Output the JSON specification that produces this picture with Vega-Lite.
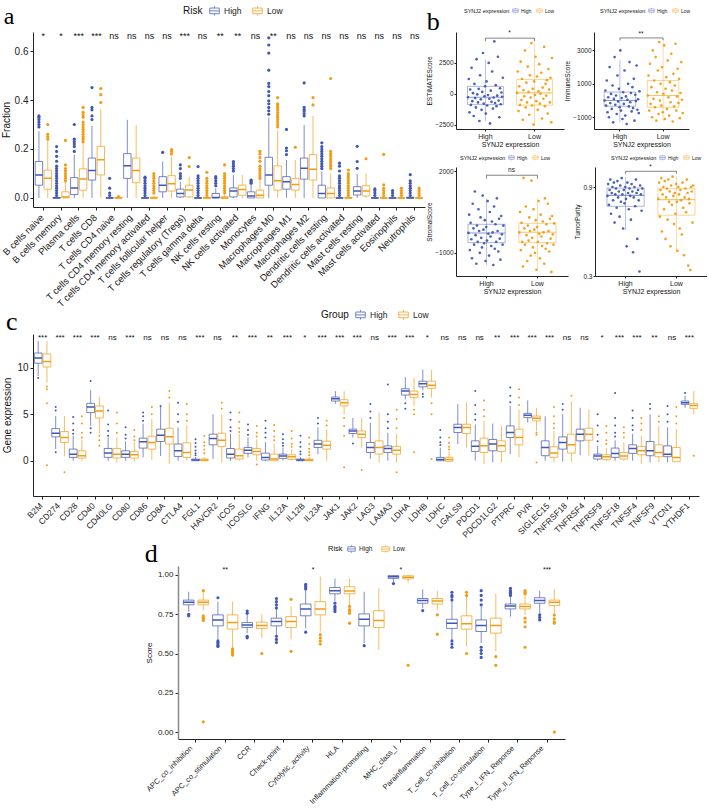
{
"$schema":"https://vega.github.io/schema/vega-lite/v6.json",
"background":"white",
"padding":{"top":5,"left":0,"right":0,"bottom":0},
"config":{"view":{"stroke":null},"font":"Liberation Sans","axis":{"domainColor":"#222","tickColor":"#222","labelColor":"#222","titleColor":"#111","grid":false,"titleFontWeight":"normal"},"legend":{"titleFontWeight":"normal","labelColor":"#222","titleColor":"#111"}},
"datasets":{
"aBox":[
{"x":"B cells naive|High","g":"High","lo":0,"q1":0.052,"md":0.094,"q3":0.149,"hi":0.273},{"x":"B cells naive|Low","g":"Low","lo":0,"q1":0.036,"md":0.08,"q3":0.114,"hi":0.234},
{"x":"B cells memory|High","g":"High","lo":0,"q1":0,"md":0,"q3":0.002,"hi":0.005},{"x":"B cells memory|Low","g":"Low","lo":0,"q1":0,"md":0.004,"q3":0.025,"hi":0.066},
{"x":"Plasma cells|High","g":"High","lo":0,"q1":0.014,"md":0.041,"q3":0.083,"hi":0.177},{"x":"Plasma cells|Low","g":"Low","lo":0,"q1":0.032,"md":0.077,"q3":0.119,"hi":0.225},
{"x":"T cells CD8|High","g":"High","lo":0,"q1":0.073,"md":0.112,"q3":0.163,"hi":0.294},{"x":"T cells CD8|Low","g":"Low","lo":0,"q1":0.094,"md":0.156,"q3":0.211,"hi":0.363},
{"x":"T cells CD4 naive|High","g":"High","lo":0,"q1":0,"md":0,"q3":0,"hi":0},{"x":"T cells CD4 naive|Low","g":"Low","lo":0,"q1":0,"md":0,"q3":0.002,"hi":0.004},
{"x":"T cells CD4 memory resting|High","g":"High","lo":0,"q1":0.08,"md":0.132,"q3":0.181,"hi":0.319},{"x":"T cells CD4 memory resting|Low","g":"Low","lo":0,"q1":0.062,"md":0.112,"q3":0.163,"hi":0.298},
{"x":"T cells CD4 memory activated|High","g":"High","lo":0,"q1":0,"md":0,"q3":0,"hi":0},{"x":"T cells CD4 memory activated|Low","g":"Low","lo":0,"q1":0,"md":0,"q3":0.003,"hi":0.008},
{"x":"T cells follicular helper|High","g":"High","lo":0,"q1":0.025,"md":0.052,"q3":0.087,"hi":0.149},{"x":"T cells follicular helper|Low","g":"Low","lo":0,"q1":0.028,"md":0.058,"q3":0.091,"hi":0.17},
{"x":"T cells regulatory (Tregs)|High","g":"High","lo":0,"q1":0.004,"md":0.018,"q3":0.036,"hi":0.066},{"x":"T cells regulatory (Tregs)|Low","g":"Low","lo":0,"q1":0.004,"md":0.032,"q3":0.052,"hi":0.087},
{"x":"T cells gamma delta|High","g":"High","lo":0,"q1":0,"md":0,"q3":0,"hi":0},{"x":"T cells gamma delta|Low","g":"Low","lo":0,"q1":0,"md":0,"q3":0.002,"hi":0.005},
{"x":"NK cells resting|High","g":"High","lo":0,"q1":0,"md":0.002,"q3":0.018,"hi":0.04},{"x":"NK cells resting|Low","g":"Low","lo":0,"q1":0,"md":0,"q3":0.005,"hi":0.012},
{"x":"NK cells activated|High","g":"High","lo":0,"q1":0.004,"md":0.028,"q3":0.041,"hi":0.094},{"x":"NK cells activated|Low","g":"Low","lo":0,"q1":0.011,"md":0.034,"q3":0.052,"hi":0.094},
{"x":"Monocytes|High","g":"High","lo":0,"q1":0,"md":0.008,"q3":0.025,"hi":0.059},{"x":"Monocytes|Low","g":"Low","lo":0,"q1":0,"md":0.011,"q3":0.032,"hi":0.073},
{"x":"Macrophages M0|High","g":"High","lo":0,"q1":0.052,"md":0.094,"q3":0.166,"hi":0.328},{"x":"Macrophages M0|Low","g":"Low","lo":0,"q1":0.032,"md":0.07,"q3":0.131,"hi":0.276},
{"x":"Macrophages M1|High","g":"High","lo":0,"q1":0.036,"md":0.066,"q3":0.087,"hi":0.155},{"x":"Macrophages M1|Low","g":"Low","lo":0,"q1":0.032,"md":0.055,"q3":0.08,"hi":0.155},
{"x":"Macrophages M2|High","g":"High","lo":0,"q1":0.077,"md":0.121,"q3":0.163,"hi":0.298},{"x":"Macrophages M2|Low","g":"Low","lo":0,"q1":0.073,"md":0.117,"q3":0.177,"hi":0.335},
{"x":"Dendritic cells resting|High","g":"High","lo":0,"q1":0,"md":0.018,"q3":0.052,"hi":0.108},{"x":"Dendritic cells resting|Low","g":"Low","lo":0,"q1":0,"md":0.018,"q3":0.041,"hi":0.1},
{"x":"Dendritic cells activated|High","g":"High","lo":0,"q1":0,"md":0,"q3":0,"hi":0},{"x":"Dendritic cells activated|Low","g":"Low","lo":0,"q1":0,"md":0,"q3":0.002,"hi":0.004},
{"x":"Mast cells resting|High","g":"High","lo":0,"q1":0.012,"md":0.028,"q3":0.046,"hi":0.097},{"x":"Mast cells resting|Low","g":"Low","lo":0,"q1":0.008,"md":0.028,"q3":0.05,"hi":0.1},
{"x":"Mast cells activated|High","g":"High","lo":0,"q1":0,"md":0,"q3":0,"hi":0},{"x":"Mast cells activated|Low","g":"Low","lo":0,"q1":0,"md":0,"q3":0,"hi":0},
{"x":"Eosinophils|High","g":"High","lo":0,"q1":0,"md":0,"q3":0,"hi":0},{"x":"Eosinophils|Low","g":"Low","lo":0,"q1":0,"md":0,"q3":0,"hi":0},
{"x":"Neutrophils|High","g":"High","lo":0,"q1":0,"md":0,"q3":0.003,"hi":0.006},{"x":"Neutrophils|Low","g":"Low","lo":0,"q1":0,"md":0,"q3":0,"hi":0}
],
"aOut":[
{"x":"B cells naive|High","g":"High","v":0.335},{"x":"B cells naive|High","g":"High","v":0.33},{"x":"B cells naive|High","g":"High","v":0.32},{"x":"B cells naive|High","g":"High","v":0.31},{"x":"B cells naive|High","g":"High","v":0.3},{"x":"B cells naive|High","g":"High","v":0.29},
{"x":"B cells naive|Low","g":"Low","v":0.3},{"x":"B cells naive|Low","g":"Low","v":0.26},{"x":"B cells naive|Low","g":"Low","v":0.25},{"x":"B cells naive|Low","g":"Low","v":0.24},
{"x":"B cells memory|High","g":"High","v":0.21},{"x":"B cells memory|High","g":"High","v":0.19},{"x":"B cells memory|High","g":"High","v":0.17},{"x":"B cells memory|High","g":"High","v":0.15},{"x":"B cells memory|High","g":"High","v":0.13},{"x":"B cells memory|High","g":"High","v":0.12},{"x":"B cells memory|High","g":"High","v":0.11},{"x":"B cells memory|High","g":"High","v":0.1},{"x":"B cells memory|High","g":"High","v":0.09},{"x":"B cells memory|High","g":"High","v":0.08},{"x":"B cells memory|High","g":"High","v":0.07},{"x":"B cells memory|High","g":"High","v":0.06},{"x":"B cells memory|High","g":"High","v":0.05},{"x":"B cells memory|High","g":"High","v":0.04},{"x":"B cells memory|High","g":"High","v":0.03},{"x":"B cells memory|High","g":"High","v":0.02},{"x":"B cells memory|High","g":"High","v":0.01},
{"x":"B cells memory|Low","g":"Low","v":0.235},{"x":"B cells memory|Low","g":"Low","v":0.135},{"x":"B cells memory|Low","g":"Low","v":0.12},{"x":"B cells memory|Low","g":"Low","v":0.11},{"x":"B cells memory|Low","g":"Low","v":0.1},{"x":"B cells memory|Low","g":"Low","v":0.09},{"x":"B cells memory|Low","g":"Low","v":0.08},{"x":"B cells memory|Low","g":"Low","v":0.07},
{"x":"Plasma cells|High","g":"High","v":0.3},{"x":"Plasma cells|High","g":"High","v":0.24},{"x":"Plasma cells|High","g":"High","v":0.23},{"x":"Plasma cells|High","g":"High","v":0.22},{"x":"Plasma cells|High","g":"High","v":0.21},{"x":"Plasma cells|High","g":"High","v":0.19},
{"x":"Plasma cells|Low","g":"Low","v":0.37},{"x":"Plasma cells|Low","g":"Low","v":0.35},{"x":"Plasma cells|Low","g":"Low","v":0.34},{"x":"Plasma cells|Low","g":"Low","v":0.33},{"x":"Plasma cells|Low","g":"Low","v":0.31},{"x":"Plasma cells|Low","g":"Low","v":0.3},{"x":"Plasma cells|Low","g":"Low","v":0.29},{"x":"Plasma cells|Low","g":"Low","v":0.28},{"x":"Plasma cells|Low","g":"Low","v":0.27},{"x":"Plasma cells|Low","g":"Low","v":0.26},{"x":"Plasma cells|Low","g":"Low","v":0.25},{"x":"Plasma cells|Low","g":"Low","v":0.24},{"x":"Plasma cells|Low","g":"Low","v":0.23},
{"x":"T cells CD8|High","g":"High","v":0.451},{"x":"T cells CD8|High","g":"High","v":0.37},{"x":"T cells CD8|High","g":"High","v":0.36},{"x":"T cells CD8|High","g":"High","v":0.335},{"x":"T cells CD8|High","g":"High","v":0.32},
{"x":"T cells CD8|Low","g":"Low","v":0.447},{"x":"T cells CD8|Low","g":"Low","v":0.422},{"x":"T cells CD8|Low","g":"Low","v":0.39},
{"x":"T cells CD4 naive|High","g":"High","v":0.08},{"x":"T cells CD4 naive|High","g":"High","v":0.04},{"x":"T cells CD4 naive|High","g":"High","v":0.02},{"x":"T cells CD4 naive|High","g":"High","v":0.01},{"x":"T cells CD4 naive|Low","g":"Low","v":0.006},
{"x":"T cells CD4 memory activated|High","g":"High","v":0.085},{"x":"T cells CD4 memory activated|High","g":"High","v":0.08},{"x":"T cells CD4 memory activated|High","g":"High","v":0.07},{"x":"T cells CD4 memory activated|High","g":"High","v":0.06},{"x":"T cells CD4 memory activated|High","g":"High","v":0.05},{"x":"T cells CD4 memory activated|High","g":"High","v":0.04},{"x":"T cells CD4 memory activated|High","g":"High","v":0.03},{"x":"T cells CD4 memory activated|High","g":"High","v":0.02},{"x":"T cells CD4 memory activated|High","g":"High","v":0.01},
{"x":"T cells CD4 memory activated|Low","g":"Low","v":0.1},{"x":"T cells CD4 memory activated|Low","g":"Low","v":0.09},{"x":"T cells CD4 memory activated|Low","g":"Low","v":0.08},{"x":"T cells CD4 memory activated|Low","g":"Low","v":0.07},{"x":"T cells CD4 memory activated|Low","g":"Low","v":0.06},{"x":"T cells CD4 memory activated|Low","g":"Low","v":0.05},{"x":"T cells CD4 memory activated|Low","g":"Low","v":0.04},{"x":"T cells CD4 memory activated|Low","g":"Low","v":0.03},{"x":"T cells CD4 memory activated|Low","g":"Low","v":0.02},
{"x":"T cells follicular helper|High","g":"High","v":0.186},{"x":"T cells follicular helper|Low","g":"Low","v":0.18},{"x":"T cells follicular helper|Low","g":"Low","v":0.19},{"x":"T cells follicular helper|Low","g":"Low","v":0.198},
{"x":"T cells regulatory (Tregs)|High","g":"High","v":0.135},{"x":"T cells regulatory (Tregs)|High","g":"High","v":0.12},{"x":"T cells regulatory (Tregs)|High","g":"High","v":0.1},{"x":"T cells regulatory (Tregs)|High","g":"High","v":0.09},{"x":"T cells regulatory (Tregs)|High","g":"High","v":0.08},{"x":"T cells regulatory (Tregs)|Low","g":"Low","v":0.128},{"x":"T cells regulatory (Tregs)|Low","g":"Low","v":0.165},
{"x":"T cells gamma delta|High","g":"High","v":0.128},{"x":"T cells gamma delta|High","g":"High","v":0.09},{"x":"T cells gamma delta|High","g":"High","v":0.08},{"x":"T cells gamma delta|High","g":"High","v":0.07},{"x":"T cells gamma delta|High","g":"High","v":0.06},{"x":"T cells gamma delta|High","g":"High","v":0.05},{"x":"T cells gamma delta|High","g":"High","v":0.04},{"x":"T cells gamma delta|High","g":"High","v":0.03},{"x":"T cells gamma delta|High","g":"High","v":0.02},{"x":"T cells gamma delta|High","g":"High","v":0.01},
{"x":"T cells gamma delta|Low","g":"Low","v":0.105},{"x":"T cells gamma delta|Low","g":"Low","v":0.08},{"x":"T cells gamma delta|Low","g":"Low","v":0.07},{"x":"T cells gamma delta|Low","g":"Low","v":0.06},{"x":"T cells gamma delta|Low","g":"Low","v":0.05},{"x":"T cells gamma delta|Low","g":"Low","v":0.04},{"x":"T cells gamma delta|Low","g":"Low","v":0.03},{"x":"T cells gamma delta|Low","g":"Low","v":0.02},{"x":"T cells gamma delta|Low","g":"Low","v":0.01},
{"x":"NK cells resting|High","g":"High","v":0.087},{"x":"NK cells resting|High","g":"High","v":0.08},{"x":"NK cells resting|High","g":"High","v":0.07},{"x":"NK cells resting|High","g":"High","v":0.06},{"x":"NK cells resting|High","g":"High","v":0.05},
{"x":"NK cells resting|Low","g":"Low","v":0.135},{"x":"NK cells resting|Low","g":"Low","v":0.1},{"x":"NK cells resting|Low","g":"Low","v":0.09},{"x":"NK cells resting|Low","g":"Low","v":0.08},{"x":"NK cells resting|Low","g":"Low","v":0.07},{"x":"NK cells resting|Low","g":"Low","v":0.06},{"x":"NK cells resting|Low","g":"Low","v":0.05},{"x":"NK cells resting|Low","g":"Low","v":0.04},{"x":"NK cells resting|Low","g":"Low","v":0.03},{"x":"NK cells resting|Low","g":"Low","v":0.02},
{"x":"NK cells activated|High","g":"High","v":0.149},{"x":"NK cells activated|High","g":"High","v":0.14},{"x":"NK cells activated|High","g":"High","v":0.13},{"x":"NK cells activated|High","g":"High","v":0.12},{"x":"NK cells activated|High","g":"High","v":0.11},
{"x":"Monocytes|High","g":"High","v":0.073},{"x":"Monocytes|High","g":"High","v":0.07},{"x":"Monocytes|High","g":"High","v":0.065},{"x":"Monocytes|High","g":"High","v":0.06},
{"x":"Monocytes|Low","g":"Low","v":0.19},{"x":"Monocytes|Low","g":"Low","v":0.18},{"x":"Monocytes|Low","g":"Low","v":0.165},{"x":"Monocytes|Low","g":"Low","v":0.15},{"x":"Monocytes|Low","g":"Low","v":0.13},{"x":"Monocytes|Low","g":"Low","v":0.12},{"x":"Monocytes|Low","g":"Low","v":0.11},{"x":"Monocytes|Low","g":"Low","v":0.1},{"x":"Monocytes|Low","g":"Low","v":0.09},{"x":"Monocytes|Low","g":"Low","v":0.08},
{"x":"Macrophages M0|High","g":"High","v":0.654},{"x":"Macrophages M0|High","g":"High","v":0.625},{"x":"Macrophages M0|High","g":"High","v":0.592},{"x":"Macrophages M0|High","g":"High","v":0.522},{"x":"Macrophages M0|High","g":"High","v":0.468},{"x":"Macrophages M0|High","g":"High","v":0.455},{"x":"Macrophages M0|High","g":"High","v":0.435},{"x":"Macrophages M0|High","g":"High","v":0.418},{"x":"Macrophages M0|High","g":"High","v":0.397},{"x":"Macrophages M0|High","g":"High","v":0.385},{"x":"Macrophages M0|High","g":"High","v":0.37},{"x":"Macrophages M0|High","g":"High","v":0.356},{"x":"Macrophages M0|High","g":"High","v":0.342},
{"x":"Macrophages M0|Low","g":"Low","v":0.41},{"x":"Macrophages M0|Low","g":"Low","v":0.385},{"x":"Macrophages M0|Low","g":"Low","v":0.38},{"x":"Macrophages M0|Low","g":"Low","v":0.37},{"x":"Macrophages M0|Low","g":"Low","v":0.36},{"x":"Macrophages M0|Low","g":"Low","v":0.35},{"x":"Macrophages M0|Low","g":"Low","v":0.34},{"x":"Macrophages M0|Low","g":"Low","v":0.33},{"x":"Macrophages M0|Low","g":"Low","v":0.32},{"x":"Macrophages M0|Low","g":"Low","v":0.31},{"x":"Macrophages M0|Low","g":"Low","v":0.3},{"x":"Macrophages M0|Low","g":"Low","v":0.29},
{"x":"Macrophages M1|High","g":"High","v":0.28},{"x":"Macrophages M1|High","g":"High","v":0.204},{"x":"Macrophages M1|High","g":"High","v":0.193},{"x":"Macrophages M1|High","g":"High","v":0.177},{"x":"Macrophages M1|Low","g":"Low","v":0.207},
{"x":"Macrophages M2|High","g":"High","v":0.47},{"x":"Macrophages M2|High","g":"High","v":0.37},{"x":"Macrophages M2|High","g":"High","v":0.36},{"x":"Macrophages M2|High","g":"High","v":0.355},{"x":"Macrophages M2|High","g":"High","v":0.345},{"x":"Macrophages M2|High","g":"High","v":0.335},{"x":"Macrophages M2|Low","g":"Low","v":0.41},{"x":"Macrophages M2|Low","g":"Low","v":0.38},
{"x":"Dendritic cells resting|High","g":"High","v":0.225},{"x":"Dendritic cells resting|High","g":"High","v":0.21},{"x":"Dendritic cells resting|High","g":"High","v":0.2},{"x":"Dendritic cells resting|High","g":"High","v":0.19},{"x":"Dendritic cells resting|High","g":"High","v":0.18},{"x":"Dendritic cells resting|High","g":"High","v":0.17},{"x":"Dendritic cells resting|High","g":"High","v":0.16},{"x":"Dendritic cells resting|High","g":"High","v":0.15},{"x":"Dendritic cells resting|High","g":"High","v":0.14},{"x":"Dendritic cells resting|High","g":"High","v":0.13},{"x":"Dendritic cells resting|High","g":"High","v":0.12},
{"x":"Dendritic cells resting|Low","g":"Low","v":0.488},{"x":"Dendritic cells resting|Low","g":"Low","v":0.19},{"x":"Dendritic cells resting|Low","g":"Low","v":0.18},{"x":"Dendritic cells resting|Low","g":"Low","v":0.17},{"x":"Dendritic cells resting|Low","g":"Low","v":0.16},{"x":"Dendritic cells resting|Low","g":"Low","v":0.15},{"x":"Dendritic cells resting|Low","g":"Low","v":0.14},{"x":"Dendritic cells resting|Low","g":"Low","v":0.13},{"x":"Dendritic cells resting|Low","g":"Low","v":0.12},
{"x":"Dendritic cells activated|High","g":"High","v":0.142},{"x":"Dendritic cells activated|High","g":"High","v":0.13},{"x":"Dendritic cells activated|High","g":"High","v":0.11},{"x":"Dendritic cells activated|High","g":"High","v":0.09},{"x":"Dendritic cells activated|High","g":"High","v":0.08},{"x":"Dendritic cells activated|High","g":"High","v":0.07},{"x":"Dendritic cells activated|High","g":"High","v":0.06},{"x":"Dendritic cells activated|High","g":"High","v":0.05},{"x":"Dendritic cells activated|High","g":"High","v":0.04},{"x":"Dendritic cells activated|High","g":"High","v":0.03},{"x":"Dendritic cells activated|High","g":"High","v":0.02},{"x":"Dendritic cells activated|High","g":"High","v":0.01},
{"x":"Dendritic cells activated|Low","g":"Low","v":0.114},{"x":"Dendritic cells activated|Low","g":"Low","v":0.1},{"x":"Dendritic cells activated|Low","g":"Low","v":0.09},{"x":"Dendritic cells activated|Low","g":"Low","v":0.08},{"x":"Dendritic cells activated|Low","g":"Low","v":0.07},{"x":"Dendritic cells activated|Low","g":"Low","v":0.06},{"x":"Dendritic cells activated|Low","g":"Low","v":0.05},{"x":"Dendritic cells activated|Low","g":"Low","v":0.04},{"x":"Dendritic cells activated|Low","g":"Low","v":0.03},{"x":"Dendritic cells activated|Low","g":"Low","v":0.02},{"x":"Dendritic cells activated|Low","g":"Low","v":0.01},
{"x":"Mast cells resting|High","g":"High","v":0.211},{"x":"Mast cells resting|High","g":"High","v":0.149},{"x":"Mast cells resting|High","g":"High","v":0.121},{"x":"Mast cells resting|Low","g":"Low","v":0.16},
{"x":"Mast cells activated|High","g":"High","v":0.037},{"x":"Mast cells activated|High","g":"High","v":0.03},{"x":"Mast cells activated|High","g":"High","v":0.02},{"x":"Mast cells activated|High","g":"High","v":0.01},
{"x":"Mast cells activated|Low","g":"Low","v":0.178},{"x":"Mast cells activated|Low","g":"Low","v":0.054},{"x":"Mast cells activated|Low","g":"Low","v":0.04},{"x":"Mast cells activated|Low","g":"Low","v":0.03},{"x":"Mast cells activated|Low","g":"Low","v":0.02},{"x":"Mast cells activated|Low","g":"Low","v":0.01},
{"x":"Eosinophils|High","g":"High","v":0.03},{"x":"Eosinophils|High","g":"High","v":0.02},{"x":"Eosinophils|High","g":"High","v":0.01},{"x":"Eosinophils|Low","g":"Low","v":0.04},{"x":"Eosinophils|Low","g":"Low","v":0.03},{"x":"Eosinophils|Low","g":"Low","v":0.02},{"x":"Eosinophils|Low","g":"Low","v":0.01},
{"x":"Neutrophils|High","g":"High","v":0.095},{"x":"Neutrophils|High","g":"High","v":0.07},{"x":"Neutrophils|High","g":"High","v":0.06},{"x":"Neutrophils|High","g":"High","v":0.05},{"x":"Neutrophils|High","g":"High","v":0.04},{"x":"Neutrophils|High","g":"High","v":0.03},{"x":"Neutrophils|High","g":"High","v":0.02},{"x":"Neutrophils|High","g":"High","v":0.01},
{"x":"Neutrophils|Low","g":"Low","v":0.04},{"x":"Neutrophils|Low","g":"Low","v":0.03},{"x":"Neutrophils|Low","g":"Low","v":0.02},{"x":"Neutrophils|Low","g":"Low","v":0.01}
],
"aSig":[
{"x":"B cells naive|High","t":"*"},{"x":"B cells memory|High","t":"*"},{"x":"Plasma cells|High","t":"***"},{"x":"T cells CD8|High","t":"***"},{"x":"T cells CD4 naive|High","t":"ns"},{"x":"T cells CD4 memory resting|High","t":"ns"},{"x":"T cells CD4 memory activated|High","t":"ns"},{"x":"T cells follicular helper|High","t":"ns"},{"x":"T cells regulatory (Tregs)|High","t":"***"},{"x":"T cells gamma delta|High","t":"ns"},{"x":"NK cells resting|High","t":"**"},{"x":"NK cells activated|High","t":"**"},{"x":"Monocytes|High","t":"ns"},{"x":"Macrophages M0|High","t":"**"},{"x":"Macrophages M1|High","t":"ns"},{"x":"Macrophages M2|High","t":"ns"},{"x":"Dendritic cells resting|High","t":"ns"},{"x":"Dendritic cells activated|High","t":"ns"},{"x":"Mast cells resting|High","t":"ns"},{"x":"Mast cells activated|High","t":"ns"},{"x":"Eosinophils|High","t":"ns"},{"x":"Neutrophils|High","t":"ns"}
],
"bBox":[
{"s":"E","g":"High","lo":-2220,"q1":-880,"md":-278,"q3":604,"hi":2780},{"s":"E","g":"Low","lo":-2480,"q1":-924,"md":70,"q3":1160,"hi":4120},
{"s":"I","g":"High","lo":-1300,"q1":-340,"md":0,"q3":508,"hi":2420},{"s":"I","g":"Low","lo":-1220,"q1":-400,"md":305,"q3":1200,"hi":3525},
{"s":"S","g":"High","lo":-1447,"q1":-624,"md":-270,"q3":47,"hi":1000},{"s":"S","g":"Low","lo":-1620,"q1":-624,"md":-247,"q3":82,"hi":1000},
{"s":"T","g":"High","lo":0.61,"q1":0.77,"md":0.844,"q3":0.893,"hi":0.967},{"s":"T","g":"Low","lo":0.46,"q1":0.71,"md":0.815,"q3":0.889,"hi":0.974}
],
"bSig":[
{"s":"E","a":"High","b":"Low","y":4500,"y2":4250,"ty":4650,"t":"*"},
{"s":"I","a":"High","b":"Low","y":3745,"y2":3600,"ty":3830,"t":"**"},
{"s":"S","a":"High","b":"Low","y":1847,"y2":1720,"ty":1930,"t":"ns"},
{"s":"T","a":"High","b":"Low","y":1.006,"y2":0.99,"ty":1.014,"t":"*"}
],
"bE":[
{"g":"High","i":1,"v":-280},{"g":"High","i":2,"v":1200},{"g":"High","i":3,"v":-1500},{"g":"High","i":4,"v":350},{"g":"High","i":5,"v":-900},{"g":"High","i":6,"v":2100},{"g":"High","i":7,"v":-600},{"g":"High","i":8,"v":50},{"g":"High","i":9,"v":-1800},{"g":"High","i":10,"v":800},
{"g":"High","i":11,"v":-350},{"g":"High","i":12,"v":-1100},{"g":"High","i":13,"v":2800},{"g":"High","i":14,"v":-50},{"g":"High","i":15,"v":-700},{"g":"High","i":16,"v":400},{"g":"High","i":17,"v":-2200},{"g":"High","i":18,"v":1500},{"g":"High","i":19,"v":-450},{"g":"High","i":20,"v":-1300},
{"g":"High","i":21,"v":150},{"g":"High","i":22,"v":3300},{"g":"High","i":23,"v":-800},{"g":"High","i":24,"v":-200},{"g":"High","i":25,"v":600},{"g":"High","i":26,"v":-1600},{"g":"High","i":27,"v":1000},{"g":"High","i":28,"v":-950},{"g":"High","i":29,"v":-100},{"g":"High","i":30,"v":2500},
{"g":"High","i":31,"v":-400},{"g":"High","i":32,"v":-2400},{"g":"High","i":33,"v":250},{"g":"High","i":34,"v":-650},{"g":"High","i":35,"v":1800},{"g":"High","i":36,"v":-1200},{"g":"High","i":37,"v":-300},{"g":"High","i":38,"v":4236},{"g":"High","i":39,"v":-750},{"g":"High","i":40,"v":700},
{"g":"High","i":41,"v":-1000},{"g":"High","i":42,"v":-150},{"g":"High","i":43,"v":3000},{"g":"High","i":44,"v":-550},{"g":"High","i":45,"v":-1900},{"g":"High","i":46,"v":450},{"g":"High","i":47,"v":-850},{"g":"High","i":48,"v":100},{"g":"High","i":49,"v":-250},{"g":"High","i":50,"v":1300},
{"g":"Low","i":1,"v":70},{"g":"Low","i":2,"v":1800},{"g":"Low","i":3,"v":-1400},{"g":"Low","i":4,"v":600},{"g":"Low","i":5,"v":-900},{"g":"Low","i":6,"v":2600},{"g":"Low","i":7,"v":-500},{"g":"Low","i":8,"v":1200},{"g":"Low","i":9,"v":-2100},{"g":"Low","i":10,"v":300},
{"g":"Low","i":11,"v":-200},{"g":"Low","i":12,"v":3500},{"g":"Low","i":13,"v":-1100},{"g":"Low","i":14,"v":900},{"g":"Low","i":15,"v":-700},{"g":"Low","i":16,"v":2200},{"g":"Low","i":17,"v":150},{"g":"Low","i":18,"v":-1700},{"g":"Low","i":19,"v":1500},{"g":"Low","i":20,"v":-300},
{"g":"Low","i":21,"v":4100},{"g":"Low","i":22,"v":-950},{"g":"Low","i":23,"v":400},{"g":"Low","i":24,"v":-2500},{"g":"Low","i":25,"v":1000},{"g":"Low","i":26,"v":-100},{"g":"Low","i":27,"v":3000},{"g":"Low","i":28,"v":-600},{"g":"Low","i":29,"v":1400},{"g":"Low","i":30,"v":-1300},
{"g":"Low","i":31,"v":200},{"g":"Low","i":32,"v":2400},{"g":"Low","i":33,"v":-800},{"g":"Low","i":34,"v":0},{"g":"Low","i":35,"v":1700},{"g":"Low","i":36,"v":-2000},{"g":"Low","i":37,"v":500},{"g":"Low","i":38,"v":-400},{"g":"Low","i":39,"v":3800},{"g":"Low","i":40,"v":-1000},
{"g":"Low","i":41,"v":800},{"g":"Low","i":42,"v":-150},{"g":"Low","i":43,"v":1100},{"g":"Low","i":44,"v":-1600},{"g":"Low","i":45,"v":2000},{"g":"Low","i":46,"v":350},{"g":"Low","i":47,"v":-700},{"g":"Low","i":48,"v":1300},{"g":"Low","i":49,"v":-2300},{"g":"Low","i":50,"v":2900}
],
"bI":[
{"g":"High","i":1,"v":0},{"g":"High","i":2,"v":600},{"g":"High","i":3,"v":-300},{"g":"High","i":4,"v":1200},{"g":"High","i":5,"v":-700},{"g":"High","i":6,"v":200},{"g":"High","i":7,"v":-1000},{"g":"High","i":8,"v":2000},{"g":"High","i":9,"v":-150},{"g":"High","i":10,"v":400},
{"g":"High","i":11,"v":-500},{"g":"High","i":12,"v":900},{"g":"High","i":13,"v":-1300},{"g":"High","i":14,"v":100},{"g":"High","i":15,"v":2600},{"g":"High","i":16,"v":-250},{"g":"High","i":17,"v":300},{"g":"High","i":18,"v":-800},{"g":"High","i":19,"v":1500},{"g":"High","i":20,"v":-50},
{"g":"High","i":21,"v":700},{"g":"High","i":22,"v":-400},{"g":"High","i":23,"v":3000},{"g":"High","i":24,"v":-600},{"g":"High","i":25,"v":150},{"g":"High","i":26,"v":-1100},{"g":"High","i":27,"v":500},{"g":"High","i":28,"v":-200},{"g":"High","i":29,"v":1800},{"g":"High","i":30,"v":-900},
{"g":"High","i":31,"v":250},{"g":"High","i":32,"v":-1400},{"g":"High","i":33,"v":50},{"g":"High","i":34,"v":1000},{"g":"High","i":35,"v":-350},{"g":"High","i":36,"v":2300},{"g":"High","i":37,"v":-100},{"g":"High","i":38,"v":450},{"g":"High","i":39,"v":-650},{"g":"High","i":40,"v":800},
{"g":"High","i":41,"v":-450},{"g":"High","i":42,"v":1300},{"g":"High","i":43,"v":-1200},{"g":"High","i":44,"v":350},{"g":"High","i":45,"v":-30},{"g":"High","i":46,"v":2100},{"g":"High","i":47,"v":-550},{"g":"High","i":48,"v":80},{"g":"High","i":49,"v":-750},{"g":"High","i":50,"v":550},
{"g":"Low","i":1,"v":300},{"g":"Low","i":2,"v":1500},{"g":"Low","i":3,"v":-600},{"g":"Low","i":4,"v":2200},{"g":"Low","i":5,"v":-200},{"g":"Low","i":6,"v":800},{"g":"Low","i":7,"v":-1000},{"g":"Low","i":8,"v":3000},{"g":"Low","i":9,"v":100},{"g":"Low","i":10,"v":1200},
{"g":"Low","i":11,"v":-400},{"g":"Low","i":12,"v":2600},{"g":"Low","i":13,"v":-1200},{"g":"Low","i":14,"v":500},{"g":"Low","i":15,"v":1800},{"g":"Low","i":16,"v":-800},{"g":"Low","i":17,"v":3500},{"g":"Low","i":18,"v":0},{"g":"Low","i":19,"v":1000},{"g":"Low","i":20,"v":-300},
{"g":"Low","i":21,"v":2000},{"g":"Low","i":22,"v":-700},{"g":"Low","i":23,"v":400},{"g":"Low","i":24,"v":3300},{"g":"Low","i":25,"v":-1100},{"g":"Low","i":26,"v":700},{"g":"Low","i":27,"v":1400},{"g":"Low","i":28,"v":-500},{"g":"Low","i":29,"v":2400},{"g":"Low","i":30,"v":200},
{"g":"Low","i":31,"v":-900},{"g":"Low","i":32,"v":1100},{"g":"Low","i":33,"v":-100},{"g":"Low","i":34,"v":2800},{"g":"Low","i":35,"v":600},{"g":"Low","i":36,"v":-1250},{"g":"Low","i":37,"v":1600},{"g":"Low","i":38,"v":-350},{"g":"Low","i":39,"v":900},{"g":"Low","i":40,"v":3400},
{"g":"Low","i":41,"v":-600},{"g":"Low","i":42,"v":250},{"g":"Low","i":43,"v":1900},{"g":"Low","i":44,"v":-150},{"g":"Low","i":45,"v":1300},{"g":"Low","i":46,"v":-1050},{"g":"Low","i":47,"v":450},{"g":"Low","i":48,"v":2300},{"g":"Low","i":49,"v":50},{"g":"Low","i":50,"v":-750}
],
"bS":[
{"g":"High","i":1,"v":-270},{"g":"High","i":2,"v":400},{"g":"High","i":3,"v":-900},{"g":"High","i":4,"v":100},{"g":"High","i":5,"v":-500},{"g":"High","i":6,"v":-1200},{"g":"High","i":7,"v":800},{"g":"High","i":8,"v":-100},{"g":"High","i":9,"v":-700},{"g":"High","i":10,"v":1250},
{"g":"High","i":11,"v":-350},{"g":"High","i":12,"v":-1400},{"g":"High","i":13,"v":0},{"g":"High","i":14,"v":-600},{"g":"High","i":15,"v":600},{"g":"High","i":16,"v":-200},{"g":"High","i":17,"v":-1000},{"g":"High","i":18,"v":300},{"g":"High","i":19,"v":-450},{"g":"High","i":20,"v":-800},
{"g":"High","i":21,"v":1100},{"g":"High","i":22,"v":-150},{"g":"High","i":23,"v":-650},{"g":"High","i":24,"v":200},{"g":"High","i":25,"v":-1300},{"g":"High","i":26,"v":-50},{"g":"High","i":27,"v":-550},{"g":"High","i":28,"v":900},{"g":"High","i":29,"v":-300},{"g":"High","i":30,"v":-1100},
{"g":"High","i":31,"v":500},{"g":"High","i":32,"v":-400},{"g":"High","i":33,"v":-750},{"g":"High","i":34,"v":150},{"g":"High","i":35,"v":-250},{"g":"High","i":36,"v":-1447},{"g":"High","i":37,"v":700},{"g":"High","i":38,"v":-850},{"g":"High","i":39,"v":50},{"g":"High","i":40,"v":-600},
{"g":"High","i":41,"v":1000},{"g":"High","i":42,"v":-200},{"g":"High","i":43,"v":-950},{"g":"High","i":44,"v":250},{"g":"High","i":45,"v":-480},{"g":"High","i":46,"v":-1250},{"g":"High","i":47,"v":350},{"g":"High","i":48,"v":-320},{"g":"High","i":49,"v":-700},{"g":"High","i":50,"v":0},
{"g":"Low","i":1,"v":-250},{"g":"Low","i":2,"v":500},{"g":"Low","i":3,"v":-900},{"g":"Low","i":4,"v":100},{"g":"Low","i":5,"v":-600},{"g":"Low","i":6,"v":-1500},{"g":"Low","i":7,"v":1750},{"g":"Low","i":8,"v":-100},{"g":"Low","i":9,"v":-700},{"g":"Low","i":10,"v":700},
{"g":"Low","i":11,"v":-350},{"g":"Low","i":12,"v":-1300},{"g":"Low","i":13,"v":0},{"g":"Low","i":14,"v":-550},{"g":"Low","i":15,"v":300},{"g":"Low","i":16,"v":-200},{"g":"Low","i":17,"v":-1100},{"g":"Low","i":18,"v":1650},{"g":"Low","i":19,"v":-450},{"g":"Low","i":20,"v":-800},
{"g":"Low","i":21,"v":600},{"g":"Low","i":22,"v":-150},{"g":"Low","i":23,"v":-1000},{"g":"Low","i":24,"v":200},{"g":"Low","i":25,"v":-1620},{"g":"Low","i":26,"v":-50},{"g":"Low","i":27,"v":-600},{"g":"Low","i":28,"v":900},{"g":"Low","i":29,"v":-300},{"g":"Low","i":30,"v":-1200},
{"g":"Low","i":31,"v":400},{"g":"Low","i":32,"v":-400},{"g":"Low","i":33,"v":-750},{"g":"Low","i":34,"v":150},{"g":"Low","i":35,"v":-250},{"g":"Low","i":36,"v":-1400},{"g":"Low","i":37,"v":1000},{"g":"Low","i":38,"v":-850},{"g":"Low","i":39,"v":50},{"g":"Low","i":40,"v":-650},
{"g":"Low","i":41,"v":800},{"g":"Low","i":42,"v":-200},{"g":"Low","i":43,"v":-950},{"g":"Low","i":44,"v":250},{"g":"Low","i":45,"v":-480},{"g":"Low","i":46,"v":-1700},{"g":"Low","i":47,"v":350},{"g":"Low","i":48,"v":-320},{"g":"Low","i":49,"v":-700},{"g":"Low","i":50,"v":80}
],
"bT":[
{"g":"High","i":1,"v":0.84},{"g":"High","i":2,"v":0.92},{"g":"High","i":3,"v":0.78},{"g":"High","i":4,"v":0.88},{"g":"High","i":5,"v":0.95},{"g":"High","i":6,"v":0.72},{"g":"High","i":7,"v":0.86},{"g":"High","i":8,"v":0.9},{"g":"High","i":9,"v":0.81},{"g":"High","i":10,"v":0.93},
{"g":"High","i":11,"v":0.66},{"g":"High","i":12,"v":0.85},{"g":"High","i":13,"v":0.89},{"g":"High","i":14,"v":0.76},{"g":"High","i":15,"v":0.94},{"g":"High","i":16,"v":0.83},{"g":"High","i":17,"v":0.87},{"g":"High","i":18,"v":0.7},{"g":"High","i":19,"v":0.91},{"g":"High","i":20,"v":0.8},
{"g":"High","i":21,"v":0.96},{"g":"High","i":22,"v":0.85},{"g":"High","i":23,"v":0.62},{"g":"High","i":24,"v":0.88},{"g":"High","i":25,"v":0.79},{"g":"High","i":26,"v":0.9},{"g":"High","i":27,"v":0.82},{"g":"High","i":28,"v":0.5},{"g":"High","i":29,"v":0.93},{"g":"High","i":30,"v":0.86},
{"g":"High","i":31,"v":0.75},{"g":"High","i":32,"v":0.89},{"g":"High","i":33,"v":0.84},{"g":"High","i":34,"v":0.68},{"g":"High","i":35,"v":0.92},{"g":"High","i":36,"v":0.87},{"g":"High","i":37,"v":0.46},{"g":"High","i":38,"v":0.83},{"g":"High","i":39,"v":0.9},{"g":"High","i":40,"v":0.77},
{"g":"High","i":41,"v":0.95},{"g":"High","i":42,"v":0.86},{"g":"High","i":43,"v":0.55},{"g":"High","i":44,"v":0.88},{"g":"High","i":45,"v":0.81},{"g":"High","i":46,"v":0.33},{"g":"High","i":47,"v":0.91},{"g":"High","i":48,"v":0.85},{"g":"High","i":49,"v":0.74},{"g":"High","i":50,"v":0.89},
{"g":"Low","i":1,"v":0.82},{"g":"Low","i":2,"v":0.93},{"g":"Low","i":3,"v":0.7},{"g":"Low","i":4,"v":0.88},{"g":"Low","i":5,"v":0.96},{"g":"Low","i":6,"v":0.6},{"g":"Low","i":7,"v":0.85},{"g":"Low","i":8,"v":0.9},{"g":"Low","i":9,"v":0.75},{"g":"Low","i":10,"v":0.94},
{"g":"Low","i":11,"v":0.55},{"g":"Low","i":12,"v":0.83},{"g":"Low","i":13,"v":0.89},{"g":"Low","i":14,"v":0.68},{"g":"Low","i":15,"v":0.95},{"g":"Low","i":16,"v":0.8},{"g":"Low","i":17,"v":0.87},{"g":"Low","i":18,"v":0.5},{"g":"Low","i":19,"v":0.91},{"g":"Low","i":20,"v":0.78},
{"g":"Low","i":21,"v":0.97},{"g":"Low","i":22,"v":0.84},{"g":"Low","i":23,"v":0.65},{"g":"Low","i":24,"v":0.86},{"g":"Low","i":25,"v":0.72},{"g":"Low","i":26,"v":0.92},{"g":"Low","i":27,"v":0.8},{"g":"Low","i":28,"v":0.47},{"g":"Low","i":29,"v":0.9},{"g":"Low","i":30,"v":0.85},
{"g":"Low","i":31,"v":0.62},{"g":"Low","i":32,"v":0.88},{"g":"Low","i":33,"v":0.81},{"g":"Low","i":34,"v":0.58},{"g":"Low","i":35,"v":0.93},{"g":"Low","i":36,"v":0.76},{"g":"Low","i":37,"v":0.44},{"g":"Low","i":38,"v":0.83},{"g":"Low","i":39,"v":0.89},{"g":"Low","i":40,"v":0.73},
{"g":"Low","i":41,"v":0.95},{"g":"Low","i":42,"v":0.86},{"g":"Low","i":43,"v":0.37},{"g":"Low","i":44,"v":0.82},{"g":"Low","i":45,"v":0.79},{"g":"Low","i":46,"v":0.34},{"g":"Low","i":47,"v":0.9},{"g":"Low","i":48,"v":0.87},{"g":"Low","i":49,"v":0.66},{"g":"Low","i":50,"v":0.91}
],
"cBox":[
{"x":"B2M|High","g":"High","lo":9.1,"q1":10.5,"md":11.07,"q3":11.6,"hi":12.9},{"x":"B2M|Low","g":"Low","lo":8.4,"q1":10.1,"md":10.7,"q3":11.5,"hi":12.9},
{"x":"CD274|High","g":"High","lo":1.25,"q1":2.57,"md":2.96,"q3":3.46,"hi":4.8},{"x":"CD274|Low","g":"Low","lo":0.5,"q1":1.96,"md":2.5,"q3":3.14,"hi":4.8},
{"x":"CD28|High","g":"High","lo":0,"q1":0.36,"md":0.71,"q3":1.25,"hi":2.7},{"x":"CD28|Low","g":"Low","lo":0,"q1":0.29,"md":0.54,"q3":1.07,"hi":2.3},
{"x":"CD40|High","g":"High","lo":3.75,"q1":5.18,"md":5.79,"q3":6.18,"hi":7.6},{"x":"CD40|Low","g":"Low","lo":2.9,"q1":4.6,"md":5.36,"q3":5.9,"hi":6.9},
{"x":"CD40LG|High","g":"High","lo":0,"q1":0.36,"md":0.82,"q3":1.32,"hi":2.5},{"x":"CD40LG|Low","g":"Low","lo":-0.2,"q1":0.29,"md":0.71,"q3":1.32,"hi":2.5},
{"x":"CD80|High","g":"High","lo":0,"q1":0.36,"md":0.71,"q3":1.07,"hi":2.1},{"x":"CD80|Low","g":"Low","lo":-0.1,"q1":0.29,"md":0.64,"q3":1.0,"hi":2.0},
{"x":"CD86|High","g":"High","lo":0.36,"q1":1.36,"md":2.04,"q3":2.43,"hi":4.0},{"x":"CD86|Low","g":"Low","lo":0.1,"q1":1.25,"md":1.96,"q3":2.64,"hi":4.5},
{"x":"CD8A|High","g":"High","lo":0.5,"q1":2.07,"md":2.75,"q3":3.4,"hi":5.8},{"x":"CD8A|Low","g":"Low","lo":-0.36,"q1":1.8,"md":2.57,"q3":3.5,"hi":6.25},
{"x":"CTLA4|High","g":"High","lo":0,"q1":0.46,"md":1.07,"q3":1.8,"hi":3.6},{"x":"CTLA4|Low","g":"Low","lo":0,"q1":0.36,"md":0.89,"q3":1.93,"hi":3.8},
{"x":"FGL1|High","g":"High","lo":0,"q1":0,"md":0.07,"q3":0.18,"hi":0.4},{"x":"FGL1|Low","g":"Low","lo":0,"q1":0,"md":0.07,"q3":0.18,"hi":0.4},
{"x":"HAVCR2|High","g":"High","lo":0.2,"q1":1.71,"md":2.39,"q3":2.86,"hi":5.0},{"x":"HAVCR2|Low","g":"Low","lo":-0.2,"q1":1.54,"md":2.21,"q3":2.96,"hi":5.0},
{"x":"ICOS|High","g":"High","lo":0,"q1":0.29,"md":0.71,"q3":1.32,"hi":2.9},{"x":"ICOS|Low","g":"Low","lo":0,"q1":0.18,"md":0.54,"q3":1.25,"hi":2.86},
{"x":"ICOSLG|High","g":"High","lo":0.36,"q1":0.79,"md":1.14,"q3":1.43,"hi":2.5},{"x":"ICOSLG|Low","g":"Low","lo":0,"q1":0.64,"md":1.0,"q3":1.32,"hi":2.3},
{"x":"IFNG|High","g":"High","lo":0,"q1":0.07,"md":0.36,"q3":0.82,"hi":2.0},{"x":"IFNG|Low","g":"Low","lo":0,"q1":0,"md":0.18,"q3":0.71,"hi":1.79},
{"x":"IL12A|High","g":"High","lo":0,"q1":0.25,"md":0.5,"q3":0.71,"hi":1.43},{"x":"IL12A|Low","g":"Low","lo":0,"q1":0.14,"md":0.43,"q3":0.64,"hi":1.25},
{"x":"IL12B|High","g":"High","lo":0,"q1":0,"md":0.07,"q3":0.18,"hi":0.4},{"x":"IL12B|Low","g":"Low","lo":0,"q1":0,"md":0.07,"q3":0.18,"hi":0.4},
{"x":"IL23A|High","g":"High","lo":0.71,"q1":1.43,"md":1.8,"q3":2.2,"hi":3.6},{"x":"IL23A|Low","g":"Low","lo":0,"q1":1.25,"md":1.68,"q3":2.1,"hi":3.4},
{"x":"JAK1|High","g":"High","lo":6.14,"q1":6.43,"md":6.68,"q3":6.86,"hi":7.5},{"x":"JAK1|Low","g":"Low","lo":5.0,"q1":5.9,"md":6.25,"q3":6.57,"hi":7.5},
{"x":"JAK2|High","g":"High","lo":2.5,"q1":2.93,"md":3.2,"q3":3.4,"hi":4.6},{"x":"JAK2|Low","g":"Low","lo":1.43,"q1":2.5,"md":2.86,"q3":3.2,"hi":4.6},
{"x":"LAG3|High","g":"High","lo":0.2,"q1":0.89,"md":1.43,"q3":1.96,"hi":4.1},{"x":"LAG3|Low","g":"Low","lo":-0.2,"q1":0.71,"md":1.43,"q3":2.14,"hi":5.2},
{"x":"LAMA3|High","g":"High","lo":0,"q1":0.89,"md":1.32,"q3":1.6,"hi":3.0},{"x":"LAMA3|Low","g":"Low","lo":-0.2,"q1":0.71,"md":1.14,"q3":1.54,"hi":2.86},
{"x":"LDHA|High","g":"High","lo":6.6,"q1":7.07,"md":7.5,"q3":7.75,"hi":9.0},{"x":"LDHA|Low","g":"Low","lo":5.9,"q1":6.8,"md":7.14,"q3":7.5,"hi":8.9},
{"x":"LDHB|High","g":"High","lo":7.57,"q1":7.96,"md":8.29,"q3":8.57,"hi":9.8},{"x":"LDHB|Low","g":"Low","lo":6.8,"q1":7.79,"md":8.14,"q3":8.57,"hi":9.8},
{"x":"LDHC|High","g":"High","lo":0,"q1":0,"md":0.14,"q3":0.36,"hi":1.4},{"x":"LDHC|Low","g":"Low","lo":-0.1,"q1":-0.07,"md":0.14,"q3":0.36,"hi":1.0},
{"x":"LGALS9|High","g":"High","lo":1.8,"q1":3.04,"md":3.57,"q3":3.93,"hi":6.1},{"x":"LGALS9|Low","g":"Low","lo":1.43,"q1":2.93,"md":3.57,"q3":3.93,"hi":6.25},
{"x":"PDCD1|High","g":"High","lo":0,"q1":1.0,"md":1.57,"q3":2.14,"hi":3.9},{"x":"PDCD1|Low","g":"Low","lo":-0.36,"q1":0.89,"md":1.6,"q3":2.43,"hi":4.3},
{"x":"PDCD1LG2|High","g":"High","lo":-0.18,"q1":1.07,"md":1.79,"q3":2.29,"hi":4.0},{"x":"PDCD1LG2|Low","g":"Low","lo":-0.18,"q1":1.0,"md":1.6,"q3":2.14,"hi":3.75},
{"x":"PTPRC|High","g":"High","lo":0.71,"q1":2.5,"md":3.04,"q3":3.75,"hi":5.9},{"x":"PTPRC|Low","g":"Low","lo":0.36,"q1":1.71,"md":2.5,"q3":3.4,"hi":5.5},
{"x":"PVR|High","g":"High","lo":4.1,"q1":4.64,"md":4.89,"q3":5.1,"hi":6.5},{"x":"PVR|Low","g":"Low","lo":3.2,"q1":4.29,"md":4.57,"q3":4.82,"hi":5.7},
{"x":"SIGLEC15|High","g":"High","lo":0,"q1":0.54,"md":1.43,"q3":2.14,"hi":4.8},{"x":"SIGLEC15|Low","g":"Low","lo":-0.18,"q1":0.36,"md":0.82,"q3":1.5,"hi":3.2},
{"x":"TNFRSF18|High","g":"High","lo":-0.1,"q1":1.25,"md":1.96,"q3":2.57,"hi":5.0},{"x":"TNFRSF18|Low","g":"Low","lo":-0.1,"q1":0.82,"md":1.71,"q3":2.86,"hi":6.4},
{"x":"TNFRSF4|High","g":"High","lo":0.6,"q1":2.14,"md":2.86,"q3":3.4,"hi":5.7},{"x":"TNFRSF4|Low","g":"Low","lo":0.54,"q1":2.21,"md":2.86,"q3":3.5,"hi":5.5},
{"x":"TNFRSF9|High","g":"High","lo":0,"q1":0.18,"md":0.5,"q3":0.71,"hi":1.6},{"x":"TNFRSF9|Low","g":"Low","lo":0,"q1":0.11,"md":0.43,"q3":0.64,"hi":1.36},
{"x":"TNFSF18|High","g":"High","lo":0,"q1":0.36,"md":0.79,"q3":1.36,"hi":2.2},{"x":"TNFSF18|Low","g":"Low","lo":0,"q1":0.18,"md":0.5,"q3":0.89,"hi":2.0},
{"x":"TNFSF4|High","g":"High","lo":0,"q1":0.79,"md":1.32,"q3":1.71,"hi":2.9},{"x":"TNFSF4|Low","g":"Low","lo":-0.36,"q1":0.64,"md":1.07,"q3":1.54,"hi":2.7},
{"x":"TNFSF9|High","g":"High","lo":-0.18,"q1":0.54,"md":1.07,"q3":2.07,"hi":5.0},{"x":"TNFSF9|Low","g":"Low","lo":-0.18,"q1":0.43,"md":0.89,"q3":1.71,"hi":3.75},
{"x":"VTCN1|High","g":"High","lo":-0.18,"q1":0.43,"md":0.71,"q3":1.6,"hi":3.6},{"x":"VTCN1|Low","g":"Low","lo":-0.18,"q1":-0.1,"md":0.36,"q3":1.43,"hi":3.4},
{"x":"YTHDF1|High","g":"High","lo":5.7,"q1":6.07,"md":6.25,"q3":6.43,"hi":7.0},{"x":"YTHDF1|Low","g":"Low","lo":5.0,"q1":5.64,"md":5.96,"q3":6.14,"hi":7.5}
],
"cOut":[
{"x":"B2M|High","g":"High","v":8.9},{"x":"B2M|Low","g":"Low","v":8.0},{"x":"B2M|Low","g":"Low","v":7.7},{"x":"B2M|Low","g":"Low","v":6.2},{"x":"B2M|Low","g":"Low","v":-0.5},
{"x":"CD274|High","g":"High","v":5.8},{"x":"CD274|High","g":"High","v":5.4},{"x":"CD274|High","g":"High","v":0.9},{"x":"CD274|Low","g":"Low","v":-1.25},
{"x":"CD28|High","g":"High","v":4.7},{"x":"CD28|High","g":"High","v":4.0},{"x":"CD28|High","g":"High","v":3.3},{"x":"CD28|High","g":"High","v":2.9},{"x":"CD28|Low","g":"Low","v":4.8},{"x":"CD28|Low","g":"Low","v":4.0},{"x":"CD28|Low","g":"Low","v":3.0},{"x":"CD28|Low","g":"Low","v":2.5},
{"x":"CD40|High","g":"High","v":8.6},{"x":"CD40|High","g":"High","v":3.5},{"x":"CD40|High","g":"High","v":3.0},{"x":"CD40|Low","g":"Low","v":2.7},{"x":"CD40|Low","g":"Low","v":2.2},{"x":"CD40|Low","g":"Low","v":1.6},
{"x":"CD40LG|High","g":"High","v":5.4},{"x":"CD40LG|High","g":"High","v":3.9},{"x":"CD40LG|High","g":"High","v":3.2},{"x":"CD40LG|High","g":"High","v":2.7},{"x":"CD40LG|Low","g":"Low","v":5.2},{"x":"CD40LG|Low","g":"Low","v":4.0},{"x":"CD40LG|Low","g":"Low","v":3.0},
{"x":"CD80|High","g":"High","v":3.6},{"x":"CD80|High","g":"High","v":2.8},{"x":"CD80|High","g":"High","v":2.4},{"x":"CD80|Low","g":"Low","v":3.3},{"x":"CD80|Low","g":"Low","v":2.6},{"x":"CD80|Low","g":"Low","v":2.2},
{"x":"CD86|High","g":"High","v":5.2},{"x":"CD86|High","g":"High","v":4.8},{"x":"CD86|High","g":"High","v":4.3},{"x":"CD86|Low","g":"Low","v":5.8},{"x":"CD86|Low","g":"Low","v":5.0},
{"x":"CD8A|High","g":"High","v":5.9},{"x":"CD8A|Low","g":"Low","v":7.5},{"x":"CD8A|Low","g":"Low","v":6.8},
{"x":"CTLA4|High","g":"High","v":6.25},{"x":"CTLA4|High","g":"High","v":5.0},{"x":"CTLA4|High","g":"High","v":4.2},{"x":"CTLA4|Low","g":"Low","v":6.1},{"x":"CTLA4|Low","g":"Low","v":5.0},{"x":"CTLA4|Low","g":"Low","v":4.3},
{"x":"FGL1|High","g":"High","v":2.3},{"x":"FGL1|High","g":"High","v":1.9},{"x":"FGL1|High","g":"High","v":1.5},{"x":"FGL1|High","g":"High","v":1.1},{"x":"FGL1|High","g":"High","v":0.8},{"x":"FGL1|High","g":"High","v":0.6},{"x":"FGL1|Low","g":"Low","v":2.7},{"x":"FGL1|Low","g":"Low","v":2.0},{"x":"FGL1|Low","g":"Low","v":1.6},{"x":"FGL1|Low","g":"Low","v":1.2},{"x":"FGL1|Low","g":"Low","v":0.8},
{"x":"HAVCR2|Low","g":"Low","v":6.25},{"x":"HAVCR2|Low","g":"Low","v":5.6},
{"x":"ICOS|High","g":"High","v":5.2},{"x":"ICOS|High","g":"High","v":4.4},{"x":"ICOS|High","g":"High","v":3.6},{"x":"ICOS|High","g":"High","v":3.2},{"x":"ICOS|Low","g":"Low","v":5.2},{"x":"ICOS|Low","g":"Low","v":4.2},{"x":"ICOS|Low","g":"Low","v":3.5},{"x":"ICOS|Low","g":"Low","v":3.1},
{"x":"ICOSLG|High","g":"High","v":3.9},{"x":"ICOSLG|High","g":"High","v":3.3},{"x":"ICOSLG|High","g":"High","v":2.8},{"x":"ICOSLG|Low","g":"Low","v":3.75},{"x":"ICOSLG|Low","g":"Low","v":3.0},{"x":"ICOSLG|Low","g":"Low","v":2.6},{"x":"ICOSLG|Low","g":"Low","v":-0.4},
{"x":"IFNG|High","g":"High","v":4.3},{"x":"IFNG|High","g":"High","v":3.5},{"x":"IFNG|High","g":"High","v":3.0},{"x":"IFNG|High","g":"High","v":2.5},{"x":"IFNG|Low","g":"Low","v":3.86},{"x":"IFNG|Low","g":"Low","v":3.2},{"x":"IFNG|Low","g":"Low","v":2.6},{"x":"IFNG|Low","g":"Low","v":2.2},
{"x":"IL12A|High","g":"High","v":2.86},{"x":"IL12A|High","g":"High","v":2.3},{"x":"IL12A|High","g":"High","v":1.9},{"x":"IL12A|High","g":"High","v":1.6},{"x":"IL12A|Low","g":"Low","v":3.2},{"x":"IL12A|Low","g":"Low","v":2.4},{"x":"IL12A|Low","g":"Low","v":1.8},{"x":"IL12A|Low","g":"Low","v":1.5},
{"x":"IL12B|High","g":"High","v":2.7},{"x":"IL12B|High","g":"High","v":2.0},{"x":"IL12B|High","g":"High","v":1.5},{"x":"IL12B|High","g":"High","v":1.0},{"x":"IL12B|High","g":"High","v":0.7},{"x":"IL12B|Low","g":"Low","v":2.5},{"x":"IL12B|Low","g":"Low","v":1.8},{"x":"IL12B|Low","g":"Low","v":1.3},{"x":"IL12B|Low","g":"Low","v":0.9},{"x":"IL12B|Low","g":"Low","v":0.6},
{"x":"IL23A|High","g":"High","v":4.6},{"x":"IL23A|High","g":"High","v":4.0},{"x":"IL23A|Low","g":"Low","v":4.3},{"x":"IL23A|Low","g":"Low","v":3.8},
{"x":"JAK1|Low","g":"Low","v":4.6},{"x":"JAK1|Low","g":"Low","v":3.75},{"x":"JAK1|Low","g":"Low","v":2.7},{"x":"JAK1|Low","g":"Low","v":-0.7},
{"x":"JAK2|High","g":"High","v":1.86},{"x":"JAK2|Low","g":"Low","v":-1.0},
{"x":"LAG3|High","g":"High","v":6.1},{"x":"LAG3|High","g":"High","v":5.3},{"x":"LAG3|High","g":"High","v":4.6},
{"x":"LAMA3|High","g":"High","v":8.2},{"x":"LAMA3|High","g":"High","v":5.0},{"x":"LAMA3|High","g":"High","v":4.2},{"x":"LAMA3|High","g":"High","v":3.5},{"x":"LAMA3|Low","g":"Low","v":5.5},{"x":"LAMA3|Low","g":"Low","v":4.5},{"x":"LAMA3|Low","g":"Low","v":3.5},{"x":"LAMA3|Low","g":"Low","v":-1.25},
{"x":"LDHA|High","g":"High","v":5.6},{"x":"LDHA|High","g":"High","v":6.2},{"x":"LDHA|Low","g":"Low","v":5.0},{"x":"LDHA|Low","g":"Low","v":5.5},{"x":"LDHA|Low","g":"Low","v":0.9},
{"x":"LDHB|High","g":"High","v":7.2},{"x":"LDHB|High","g":"High","v":6.9},{"x":"LDHB|Low","g":"Low","v":5.0},{"x":"LDHB|Low","g":"Low","v":6.2},{"x":"LDHB|Low","g":"Low","v":0.18},
{"x":"LDHC|High","g":"High","v":3.3},{"x":"LDHC|High","g":"High","v":2.5},{"x":"LDHC|High","g":"High","v":2.0},{"x":"LDHC|High","g":"High","v":1.7},{"x":"LDHC|Low","g":"Low","v":2.5},{"x":"LDHC|Low","g":"Low","v":1.9},{"x":"LDHC|Low","g":"Low","v":1.5},{"x":"LDHC|Low","g":"Low","v":1.2},
{"x":"PDCD1|High","g":"High","v":7.5},{"x":"PDCD1|High","g":"High","v":6.0},{"x":"PDCD1|High","g":"High","v":5.0},{"x":"PDCD1|High","g":"High","v":4.4},{"x":"PDCD1|Low","g":"Low","v":6.5},{"x":"PDCD1|Low","g":"Low","v":5.5},{"x":"PDCD1|Low","g":"Low","v":4.8},
{"x":"PTPRC|High","g":"High","v":7.9},{"x":"PTPRC|High","g":"High","v":7.0},{"x":"PTPRC|High","g":"High","v":6.3},{"x":"PTPRC|Low","g":"Low","v":7.7},{"x":"PTPRC|Low","g":"Low","v":6.8},{"x":"PTPRC|Low","g":"Low","v":6.0},
{"x":"PVR|Low","g":"Low","v":3.0},{"x":"PVR|Low","g":"Low","v":2.8},{"x":"PVR|Low","g":"Low","v":-0.2},
{"x":"SIGLEC15|Low","g":"Low","v":5.8},{"x":"SIGLEC15|Low","g":"Low","v":4.8},{"x":"SIGLEC15|Low","g":"Low","v":4.0},{"x":"SIGLEC15|Low","g":"Low","v":3.5},
{"x":"TNFRSF18|High","g":"High","v":6.1},{"x":"TNFRSF18|High","g":"High","v":5.5},{"x":"TNFRSF18|Low","g":"Low","v":7.0},
{"x":"TNFRSF9|High","g":"High","v":5.0},{"x":"TNFRSF9|High","g":"High","v":3.8},{"x":"TNFRSF9|High","g":"High","v":2.8},{"x":"TNFRSF9|High","g":"High","v":2.1},{"x":"TNFRSF9|Low","g":"Low","v":3.75},{"x":"TNFRSF9|Low","g":"Low","v":3.0},{"x":"TNFRSF9|Low","g":"Low","v":2.2},{"x":"TNFRSF9|Low","g":"Low","v":1.8},
{"x":"TNFSF18|High","g":"High","v":7.3},{"x":"TNFSF18|High","g":"High","v":4.6},{"x":"TNFSF18|High","g":"High","v":3.8},{"x":"TNFSF18|High","g":"High","v":3.0},{"x":"TNFSF18|High","g":"High","v":2.6},{"x":"TNFSF18|Low","g":"Low","v":3.6},{"x":"TNFSF18|Low","g":"Low","v":3.0},{"x":"TNFSF18|Low","g":"Low","v":2.5},
{"x":"TNFSF4|High","g":"High","v":5.4},{"x":"TNFSF4|High","g":"High","v":4.6},{"x":"TNFSF4|High","g":"High","v":3.8},{"x":"TNFSF4|High","g":"High","v":3.3},{"x":"TNFSF4|Low","g":"Low","v":4.6},{"x":"TNFSF4|Low","g":"Low","v":4.0},{"x":"TNFSF4|Low","g":"Low","v":3.3},
{"x":"TNFSF9|High","g":"High","v":6.1},{"x":"TNFSF9|High","g":"High","v":5.6},{"x":"TNFSF9|Low","g":"Low","v":4.8},{"x":"TNFSF9|Low","g":"Low","v":4.2},
{"x":"VTCN1|High","g":"High","v":5.9},{"x":"VTCN1|High","g":"High","v":5.0},{"x":"VTCN1|High","g":"High","v":4.2},{"x":"VTCN1|Low","g":"Low","v":5.8},{"x":"VTCN1|Low","g":"Low","v":4.8},{"x":"VTCN1|Low","g":"Low","v":4.0},
{"x":"YTHDF1|High","g":"High","v":7.3},{"x":"YTHDF1|Low","g":"Low","v":0.54}
],
"cSig":[
{"x":"B2M|High","t":"***"},{"x":"CD274|High","t":"***"},{"x":"CD28|High","t":"***"},{"x":"CD40|High","t":"***"},{"x":"CD40LG|High","t":"ns"},{"x":"CD80|High","t":"***"},{"x":"CD86|High","t":"ns"},{"x":"CD8A|High","t":"ns"},{"x":"CTLA4|High","t":"ns"},{"x":"FGL1|High","t":"***"},{"x":"HAVCR2|High","t":"ns"},{"x":"ICOS|High","t":"**"},{"x":"ICOSLG|High","t":"***"},{"x":"IFNG|High","t":"**"},{"x":"IL12A|High","t":"***"},{"x":"IL12B|High","t":"*"},{"x":"IL23A|High","t":"***"},{"x":"JAK1|High","t":"***"},{"x":"JAK2|High","t":"***"},{"x":"LAG3|High","t":"ns"},{"x":"LAMA3|High","t":"***"},{"x":"LDHA|High","t":"***"},{"x":"LDHB|High","t":"*"},{"x":"LDHC|High","t":"ns"},{"x":"LGALS9|High","t":"ns"},{"x":"PDCD1|High","t":"ns"},{"x":"PDCD1LG2|High","t":"**"},{"x":"PTPRC|High","t":"***"},{"x":"PVR|High","t":"***"},{"x":"SIGLEC15|High","t":"***"},{"x":"TNFRSF18|High","t":"ns"},{"x":"TNFRSF4|High","t":"ns"},{"x":"TNFRSF9|High","t":"*"},{"x":"TNFSF18|High","t":"***"},{"x":"TNFSF4|High","t":"***"},{"x":"TNFSF9|High","t":"**"},{"x":"VTCN1|High","t":"ns"},{"x":"YTHDF1|High","t":"***"}
],
"dBox":[
{"x":"APC_co_inhibition|High","g":"High","lo":0.767,"q1":0.81,"md":0.826,"q3":0.84,"hi":0.893},{"x":"APC_co_inhibition|Low","g":"Low","lo":0.777,"q1":0.81,"md":0.826,"q3":0.84,"hi":0.89},
{"x":"APC_co_stimulation|High","g":"High","lo":0.59,"q1":0.676,"md":0.714,"q3":0.746,"hi":0.83},{"x":"APC_co_stimulation|Low","g":"Low","lo":0.535,"q1":0.655,"md":0.697,"q3":0.746,"hi":0.83},
{"x":"CCR|High","g":"High","lo":0.63,"q1":0.666,"md":0.682,"q3":0.697,"hi":0.746},{"x":"CCR|Low","g":"Low","lo":0.6,"q1":0.66,"md":0.678,"q3":0.7,"hi":0.75},
{"x":"Check-point|High","g":"High","lo":0.62,"q1":0.676,"md":0.704,"q3":0.725,"hi":0.788},{"x":"Check-point|Low","g":"Low","lo":0.59,"q1":0.666,"md":0.704,"q3":0.735,"hi":0.8},
{"x":"Cytolytic_activity|High","g":"High","lo":0.66,"q1":0.74,"md":0.784,"q3":0.815,"hi":0.9},{"x":"Cytolytic_activity|Low","g":"Low","lo":0.64,"q1":0.746,"md":0.784,"q3":0.83,"hi":0.99},
{"x":"HLA|High","g":"High","lo":0.83,"q1":0.88,"md":0.9,"q3":0.92,"hi":0.977},{"x":"HLA|Low","g":"Low","lo":0.81,"q1":0.88,"md":0.898,"q3":0.925,"hi":0.977},
{"x":"Inflammation-promoting|High","g":"High","lo":0.566,"q1":0.676,"md":0.718,"q3":0.752,"hi":0.893},{"x":"Inflammation-promoting|Low","g":"Low","lo":0.524,"q1":0.666,"md":0.71,"q3":0.773,"hi":0.915},
{"x":"MHC_class_I|High","g":"High","lo":0.955,"q1":0.978,"md":0.988,"q3":0.996,"hi":1.0},{"x":"MHC_class_I|Low","g":"Low","lo":0.95,"q1":0.975,"md":0.985,"q3":0.995,"hi":1.0},
{"x":"Parainflammation|High","g":"High","lo":0.788,"q1":0.82,"md":0.837,"q3":0.85,"hi":0.908},{"x":"Parainflammation|Low","g":"Low","lo":0.777,"q1":0.815,"md":0.834,"q3":0.85,"hi":0.9},
{"x":"T_cell_co-inhibition|High","g":"High","lo":0.59,"q1":0.66,"md":0.693,"q3":0.718,"hi":0.83},{"x":"T_cell_co-inhibition|Low","g":"Low","lo":0.545,"q1":0.655,"md":0.689,"q3":0.74,"hi":0.88},
{"x":"T_cell_co-stimulation|High","g":"High","lo":0.566,"q1":0.64,"md":0.678,"q3":0.714,"hi":0.8},{"x":"T_cell_co-stimulation|Low","g":"Low","lo":0.514,"q1":0.63,"md":0.678,"q3":0.725,"hi":0.88},
{"x":"Type_I_IFN_Reponse|High","g":"High","lo":0.735,"q1":0.784,"md":0.803,"q3":0.815,"hi":0.86},{"x":"Type_I_IFN_Reponse|Low","g":"Low","lo":0.746,"q1":0.784,"md":0.8,"q3":0.815,"hi":0.87},
{"x":"Type_II_IFN_Reponse|High","g":"High","lo":0.756,"q1":0.82,"md":0.837,"q3":0.855,"hi":0.9},{"x":"Type_II_IFN_Reponse|Low","g":"Low","lo":0.735,"q1":0.805,"md":0.826,"q3":0.84,"hi":0.908}
],
"dOut":[
{"x":"APC_co_inhibition|High","g":"High","v":0.75},{"x":"APC_co_inhibition|High","g":"High","v":0.74},{"x":"APC_co_inhibition|Low","g":"Low","v":0.9},{"x":"APC_co_inhibition|Low","g":"Low","v":0.74},{"x":"APC_co_inhibition|Low","g":"Low","v":0.73},{"x":"APC_co_inhibition|Low","g":"Low","v":0.72},{"x":"APC_co_inhibition|Low","g":"Low","v":0.71},{"x":"APC_co_inhibition|Low","g":"Low","v":0.065},
{"x":"APC_co_stimulation|High","g":"High","v":0.855},{"x":"APC_co_stimulation|High","g":"High","v":0.58},{"x":"APC_co_stimulation|High","g":"High","v":0.57},{"x":"APC_co_stimulation|High","g":"High","v":0.56},{"x":"APC_co_stimulation|High","g":"High","v":0.55},{"x":"APC_co_stimulation|High","g":"High","v":0.545},{"x":"APC_co_stimulation|Low","g":"Low","v":0.53},{"x":"APC_co_stimulation|Low","g":"Low","v":0.52},{"x":"APC_co_stimulation|Low","g":"Low","v":0.51},{"x":"APC_co_stimulation|Low","g":"Low","v":0.5},{"x":"APC_co_stimulation|Low","g":"Low","v":0.49},
{"x":"CCR|High","g":"High","v":0.77},{"x":"CCR|High","g":"High","v":0.756},{"x":"CCR|High","g":"High","v":0.61},{"x":"CCR|High","g":"High","v":0.6},{"x":"CCR|Low","g":"Low","v":0.5},
{"x":"Check-point|High","g":"High","v":0.85},{"x":"Check-point|High","g":"High","v":0.83},{"x":"Check-point|High","g":"High","v":0.81},{"x":"Check-point|High","g":"High","v":0.79},{"x":"Check-point|High","g":"High","v":0.61},{"x":"Check-point|High","g":"High","v":0.59},{"x":"Check-point|High","g":"High","v":0.57},{"x":"Check-point|Low","g":"Low","v":0.845},{"x":"Check-point|Low","g":"Low","v":0.514},
{"x":"Cytolytic_activity|High","g":"High","v":0.94},{"x":"Cytolytic_activity|High","g":"High","v":0.93},{"x":"Cytolytic_activity|High","g":"High","v":0.92},{"x":"Cytolytic_activity|High","g":"High","v":0.91},{"x":"Cytolytic_activity|High","g":"High","v":0.636},{"x":"Cytolytic_activity|Low","g":"Low","v":0.62},{"x":"Cytolytic_activity|Low","g":"Low","v":0.6},{"x":"Cytolytic_activity|Low","g":"Low","v":0.58},{"x":"Cytolytic_activity|Low","g":"Low","v":0.56},
{"x":"HLA|High","g":"High","v":0.82},{"x":"HLA|High","g":"High","v":0.8},{"x":"HLA|High","g":"High","v":0.79},{"x":"HLA|High","g":"High","v":0.78},{"x":"HLA|High","g":"High","v":0.767},{"x":"HLA|Low","g":"Low","v":0.8},{"x":"HLA|Low","g":"Low","v":0.78},{"x":"HLA|Low","g":"Low","v":0.77},{"x":"HLA|Low","g":"Low","v":0.756},{"x":"HLA|Low","g":"Low","v":0.693},
{"x":"Inflammation-promoting|High","g":"High","v":0.55},
{"x":"MHC_class_I|High","g":"High","v":0.945},{"x":"MHC_class_I|Low","g":"Low","v":0.425},
{"x":"Parainflammation|High","g":"High","v":0.773},{"x":"Parainflammation|Low","g":"Low","v":0.746},{"x":"Parainflammation|Low","g":"Low","v":0.623},
{"x":"T_cell_co-inhibition|High","g":"High","v":0.89},{"x":"T_cell_co-inhibition|High","g":"High","v":0.87},{"x":"T_cell_co-inhibition|High","g":"High","v":0.86},{"x":"T_cell_co-inhibition|High","g":"High","v":0.84},{"x":"T_cell_co-inhibition|High","g":"High","v":0.58},{"x":"T_cell_co-inhibition|High","g":"High","v":0.56},{"x":"T_cell_co-inhibition|High","g":"High","v":0.54},{"x":"T_cell_co-inhibition|Low","g":"Low","v":0.89},{"x":"T_cell_co-inhibition|Low","g":"Low","v":0.87},{"x":"T_cell_co-inhibition|Low","g":"Low","v":0.5},
{"x":"T_cell_co-stimulation|High","g":"High","v":0.9},{"x":"T_cell_co-stimulation|High","g":"High","v":0.87},{"x":"T_cell_co-stimulation|High","g":"High","v":0.84},{"x":"T_cell_co-stimulation|High","g":"High","v":0.81},{"x":"T_cell_co-stimulation|High","g":"High","v":0.54},{"x":"T_cell_co-stimulation|High","g":"High","v":0.52},{"x":"T_cell_co-stimulation|High","g":"High","v":0.5},{"x":"T_cell_co-stimulation|High","g":"High","v":0.475},{"x":"T_cell_co-stimulation|Low","g":"Low","v":0.48},{"x":"T_cell_co-stimulation|Low","g":"Low","v":0.425},
{"x":"Type_I_IFN_Reponse|High","g":"High","v":0.915},{"x":"Type_I_IFN_Reponse|High","g":"High","v":0.9},{"x":"Type_I_IFN_Reponse|High","g":"High","v":0.89},{"x":"Type_I_IFN_Reponse|High","g":"High","v":0.88},{"x":"Type_I_IFN_Reponse|High","g":"High","v":0.87},{"x":"Type_I_IFN_Reponse|Low","g":"Low","v":0.9},{"x":"Type_I_IFN_Reponse|Low","g":"Low","v":0.89},{"x":"Type_I_IFN_Reponse|Low","g":"Low","v":0.88},{"x":"Type_I_IFN_Reponse|Low","g":"Low","v":0.725},{"x":"Type_I_IFN_Reponse|Low","g":"Low","v":0.7},{"x":"Type_I_IFN_Reponse|Low","g":"Low","v":0.67},{"x":"Type_I_IFN_Reponse|Low","g":"Low","v":0.54},
{"x":"Type_II_IFN_Reponse|High","g":"High","v":0.746},{"x":"Type_II_IFN_Reponse|High","g":"High","v":0.73},{"x":"Type_II_IFN_Reponse|High","g":"High","v":0.714},{"x":"Type_II_IFN_Reponse|Low","g":"Low","v":0.745},{"x":"Type_II_IFN_Reponse|Low","g":"Low","v":0.72},{"x":"Type_II_IFN_Reponse|Low","g":"Low","v":0.7},{"x":"Type_II_IFN_Reponse|Low","g":"Low","v":0.693},{"x":"Type_II_IFN_Reponse|Low","g":"Low","v":0.0}
],
"dSig":[
{"x":"APC_co_stimulation|High","t":"**"},{"x":"Cytolytic_activity|High","t":"*"},{"x":"MHC_class_I|High","t":"*"},{"x":"Type_II_IFN_Reponse|High","t":"***"}
]
},
"resolve":{"scale":{"stroke":"independent"},"legend":{"stroke":"independent"}},
"spacing":0,
"vconcat":[
{"hconcat":[
  {"width":392,"height":175,
   "title":{"text":"a","anchor":"start","frame":"bounds","font":"Liberation Serif","fontSize":24,"fontWeight":"normal","offset":4,"dy":28,"dx":3},
   "encoding":{"x":{"field":"x","type":"nominal","scale":{"type":"band","domain":["B cells naive|High","B cells naive|Low","B cells memory|High","B cells memory|Low","Plasma cells|High","Plasma cells|Low","T cells CD8|High","T cells CD8|Low","T cells CD4 naive|High","T cells CD4 naive|Low","T cells CD4 memory resting|High","T cells CD4 memory resting|Low","T cells CD4 memory activated|High","T cells CD4 memory activated|Low","T cells follicular helper|High","T cells follicular helper|Low","T cells regulatory (Tregs)|High","T cells regulatory (Tregs)|Low","T cells gamma delta|High","T cells gamma delta|Low","NK cells resting|High","NK cells resting|Low","NK cells activated|High","NK cells activated|Low","Monocytes|High","Monocytes|Low","Macrophages M0|High","Macrophages M0|Low","Macrophages M1|High","Macrophages M1|Low","Macrophages M2|High","Macrophages M2|Low","Dendritic cells resting|High","Dendritic cells resting|Low","Dendritic cells activated|High","Dendritic cells activated|Low","Mast cells resting|High","Mast cells resting|Low","Mast cells activated|High","Mast cells activated|Low","Eosinophils|High","Eosinophils|Low","Neutrophils|High","Neutrophils|Low"],"paddingInner":0.16,"paddingOuter":0.25},"axis":{"title":null,"values":["B cells naive|High","B cells memory|High","Plasma cells|High","T cells CD8|High","T cells CD4 naive|High","T cells CD4 memory resting|High","T cells CD4 memory activated|High","T cells follicular helper|High","T cells regulatory (Tregs)|High","T cells gamma delta|High","NK cells resting|High","NK cells activated|High","Monocytes|High","Macrophages M0|High","Macrophages M1|High","Macrophages M2|High","Dendritic cells resting|High","Dendritic cells activated|High","Mast cells resting|High","Mast cells activated|High","Eosinophils|High","Neutrophils|High"],"labelExpr":"split(datum.value, '|')[0]","bandPosition":1.095,"labelAngle":-45,"labelAlign":"right","labelBaseline":"top","labelFontSize":9.5,"labelLimit":0,"labelOverlap":false,"labelPadding":2,"tickSize":3}}},
   "layer":[
    {"data":{"name":"aBox"},"mark":{"type":"rule","strokeWidth":0.9,"opacity":0.75},"encoding":{"y":{"field":"lo","type":"quantitative","scale":{"domain":[-0.037,0.678],"nice":false,"zero":false},"axis":{"title":"Fraction","values":[0,0.2,0.4,0.6],"format":".1f","labelFontSize":10,"titleFontSize":10,"tickSize":3,"titlePadding":3}},"y2":{"field":"hi"},"stroke":{"field":"g","type":"nominal","scale":{"domain":["High","Low"],"range":["#4157B5","#F39C12"]},"legend":{"title":"Risk","orient":"none","legendX":150,"legendY":-27,"direction":"horizontal","titleOrient":"left","titleFontSize":10,"labelFontSize":8.5,"symbolType":"M-1,-0.6H1V0.6H-1Z M-1,0H1 M0,-0.6V-1 M0,0.6V1","symbolSize":90,"symbolStrokeWidth":1,"symbolFillColor":"white","titlePadding":6,"columnPadding":8,"labelOffset":4}}}},
    {"data":{"name":"aBox"},"mark":{"type":"bar","fill":"white","strokeWidth":0.9,"strokeOpacity":0.8},"encoding":{"y":{"field":"q1","type":"quantitative"},"y2":{"field":"q3"},"stroke":{"field":"g","type":"nominal"}}},
    {"data":{"name":"aBox"},"mark":{"type":"bar","fillOpacity":0,"strokeWidth":1.5},"encoding":{"y":{"field":"md","type":"quantitative"},"y2":{"field":"md"},"stroke":{"field":"g","type":"nominal"}}},
    {"data":{"name":"aOut"},"transform":[{"filter":"datum.g=='High'"}],"mark":{"type":"circle","size":10,"opacity":1,"color":"#4157B5"},"encoding":{"y":{"field":"v","type":"quantitative"}}},
    {"data":{"name":"aOut"},"transform":[{"filter":"datum.g=='Low'"}],"mark":{"type":"circle","size":10,"opacity":1,"color":"#F39C12"},"encoding":{"y":{"field":"v","type":"quantitative"}}},
    {"data":{"name":"aSig"},"mark":{"type":"text","fontSize":9,"baseline":"middle","color":"#111"},"encoding":{"x":{"field":"x","type":"nominal","bandPosition":1.095},"y":{"datum":0.66,"type":"quantitative"},"text":{"field":"t"}}}
   ]},
 {"vconcat":[
  {"hconcat":[
   {"width":108,"height":97,
    "title":{"text":"b","anchor":"start","frame":"bounds","font":"Liberation Serif","fontSize":26,"fontWeight":"normal","offset":2,"dy":30},
    "encoding":{"x":{"field":"g","type":"nominal","scale":{"type":"band","domain":["High","Low"],"paddingInner":0.27,"paddingOuter":0.235},"axis":{"title":"SYNJ2 expression","labelAngle":0,"labelFontSize":7,"titleFontSize":7,"titlePadding":1,"labelPadding":1,"tickSize":2}}},
    "layer":[
     {"data":{"name":"bBox"},"transform":[{"filter":"datum.s=='E'"}],"mark":{"type":"rule","strokeWidth":0.7,"opacity":0.55},"encoding":{"y":{"field":"lo","type":"quantitative","scale":{"domain":[-2850,5000],"nice":false,"zero":false},"axis":{"title":"ESTIMATEScore","values":[-2500,0,2500],"format":"d","labelFontSize":6.5,"titleFontSize":6.5,"tickSize":2,"labelPadding":1,"titlePadding":2}},"y2":{"field":"hi"},"stroke":{"field":"g","type":"nominal","scale":{"domain":["High","Low"],"range":["#4157B5","#F39C12"]},"legend":{"title":"SYNJ2 expression","orient":"none","legendX":8,"legendY":-25,"direction":"horizontal","titleOrient":"left","titleFontSize":5.5,"labelFontSize":5,"symbolType":"M-1,-0.6H1V0.6H-1Z M-1,0H1 M0,-0.6V-1 M0,0.6V1","symbolSize":30,"symbolStrokeWidth":0.8,"symbolFillColor":"white","titlePadding":2,"columnPadding":3,"labelOffset":2}}}},
     {"data":{"name":"bBox"},"transform":[{"filter":"datum.s=='E'"}],"mark":{"type":"bar","fillOpacity":0,"strokeWidth":0.8,"strokeOpacity":0.55},"encoding":{"y":{"field":"q1","type":"quantitative"},"y2":{"field":"q3"},"stroke":{"field":"g","type":"nominal"}}},
     {"data":{"name":"bE"},"transform":[{"filter":"datum.g=='High'"}],"mark":{"type":"circle","size":7,"opacity":0.95,"color":"#4157B5"},"encoding":{"xOffset":{"field":"i","type":"nominal","scale":{"type":"band","paddingInner":0,"paddingOuter":0.2}},"y":{"field":"v","type":"quantitative"}}},
     {"data":{"name":"bE"},"transform":[{"filter":"datum.g=='Low'"}],"mark":{"type":"circle","size":7,"opacity":0.95,"color":"#F39C12"},"encoding":{"xOffset":{"field":"i","type":"nominal"},"y":{"field":"v","type":"quantitative"}}},
     {"data":{"name":"bBox"},"transform":[{"filter":"datum.s=='E'"}],"mark":{"type":"bar","fillOpacity":0,"strokeWidth":1.1,"strokeOpacity":0.6},"encoding":{"y":{"field":"md","type":"quantitative"},"y2":{"field":"md"},"stroke":{"field":"g","type":"nominal"}}},
     {"data":{"name":"bSig"},"transform":[{"filter":"datum.s=='E'"}],"mark":{"type":"rule","strokeWidth":0.6,"color":"#333"},"encoding":{"x":{"field":"a","type":"nominal"},"x2":{"field":"b"},"y":{"field":"y","type":"quantitative"}}},
     {"data":{"name":"bSig"},"transform":[{"filter":"datum.s=='E'"}],"mark":{"type":"rule","strokeWidth":0.6,"color":"#333"},"encoding":{"x":{"field":"a","type":"nominal"},"y":{"field":"y","type":"quantitative"},"y2":{"field":"y2"}}},
     {"data":{"name":"bSig"},"transform":[{"filter":"datum.s=='E'"}],"mark":{"type":"rule","strokeWidth":0.6,"color":"#333"},"encoding":{"x":{"field":"b","type":"nominal"},"y":{"field":"y","type":"quantitative"},"y2":{"field":"y2"}}},
     {"data":{"name":"bSig"},"transform":[{"filter":"datum.s=='E'"}],"mark":{"type":"text","fontSize":6.5,"dx":24,"baseline":"bottom","color":"#222"},"encoding":{"x":{"field":"a","type":"nominal"},"y":{"field":"ty","type":"quantitative"},"text":{"field":"t"}}}
    ]},
   {"width":95,"height":97,
    "encoding":{"x":{"field":"g","type":"nominal","scale":{"type":"band","domain":["High","Low"],"paddingInner":0.27,"paddingOuter":0.235},"axis":{"title":"SYNJ2 expression","labelAngle":0,"labelFontSize":7,"titleFontSize":7,"titlePadding":1,"labelPadding":1,"tickSize":2}}},
    "layer":[
     {"data":{"name":"bBox"},"transform":[{"filter":"datum.s=='I'"}],"mark":{"type":"rule","strokeWidth":0.7,"opacity":0.55},"encoding":{"y":{"field":"lo","type":"quantitative","scale":{"domain":[-1700,4100],"nice":false,"zero":false},"axis":{"title":"ImmuneScore","values":[-1000,0,1000,2000,3000],"format":"d","labelFontSize":6.5,"titleFontSize":6.5,"tickSize":2,"labelPadding":1,"titlePadding":2}},"y2":{"field":"hi"},"stroke":{"field":"g","type":"nominal","scale":{"domain":["High","Low"],"range":["#4157B5","#F39C12"]},"legend":{"title":"SYNJ2 expression","orient":"none","legendX":6,"legendY":-25,"direction":"horizontal","titleOrient":"left","titleFontSize":5.5,"labelFontSize":5,"symbolType":"M-1,-0.6H1V0.6H-1Z M-1,0H1 M0,-0.6V-1 M0,0.6V1","symbolSize":30,"symbolStrokeWidth":0.8,"symbolFillColor":"white","titlePadding":2,"columnPadding":3,"labelOffset":2}}}},
     {"data":{"name":"bBox"},"transform":[{"filter":"datum.s=='I'"}],"mark":{"type":"bar","fillOpacity":0,"strokeWidth":0.8,"strokeOpacity":0.55},"encoding":{"y":{"field":"q1","type":"quantitative"},"y2":{"field":"q3"},"stroke":{"field":"g","type":"nominal"}}},
     {"data":{"name":"bI"},"transform":[{"filter":"datum.g=='High'"}],"mark":{"type":"circle","size":7,"opacity":0.95,"color":"#4157B5"},"encoding":{"xOffset":{"field":"i","type":"nominal","scale":{"type":"band","paddingInner":0,"paddingOuter":0.2}},"y":{"field":"v","type":"quantitative"}}},
     {"data":{"name":"bI"},"transform":[{"filter":"datum.g=='Low'"}],"mark":{"type":"circle","size":7,"opacity":0.95,"color":"#F39C12"},"encoding":{"xOffset":{"field":"i","type":"nominal"},"y":{"field":"v","type":"quantitative"}}},
     {"data":{"name":"bBox"},"transform":[{"filter":"datum.s=='I'"}],"mark":{"type":"bar","fillOpacity":0,"strokeWidth":1.1,"strokeOpacity":0.6},"encoding":{"y":{"field":"md","type":"quantitative"},"y2":{"field":"md"},"stroke":{"field":"g","type":"nominal"}}},
     {"data":{"name":"bSig"},"transform":[{"filter":"datum.s=='I'"}],"mark":{"type":"rule","strokeWidth":0.6,"color":"#333"},"encoding":{"x":{"field":"a","type":"nominal"},"x2":{"field":"b"},"y":{"field":"y","type":"quantitative"}}},
     {"data":{"name":"bSig"},"transform":[{"filter":"datum.s=='I'"}],"mark":{"type":"rule","strokeWidth":0.6,"color":"#333"},"encoding":{"x":{"field":"a","type":"nominal"},"y":{"field":"y","type":"quantitative"},"y2":{"field":"y2"}}},
     {"data":{"name":"bSig"},"transform":[{"filter":"datum.s=='I'"}],"mark":{"type":"rule","strokeWidth":0.6,"color":"#333"},"encoding":{"x":{"field":"b","type":"nominal"},"y":{"field":"y","type":"quantitative"},"y2":{"field":"y2"}}},
     {"data":{"name":"bSig"},"transform":[{"filter":"datum.s=='I'"}],"mark":{"type":"text","fontSize":6.5,"dx":21,"baseline":"bottom","color":"#222"},"encoding":{"x":{"field":"a","type":"nominal"},"y":{"field":"ty","type":"quantitative"},"text":{"field":"t"}}}
    ]}
  ],"spacing":0,"resolve":{"scale":{"stroke":"independent"},"legend":{"stroke":"independent"}}},
  {"hconcat":[
   {"width":112,"height":109,
    "encoding":{"x":{"field":"g","type":"nominal","scale":{"type":"band","domain":["High","Low"],"paddingInner":0.27,"paddingOuter":0.235},"axis":{"title":"SYNJ2 expression","labelAngle":0,"labelFontSize":7,"titleFontSize":7,"titlePadding":1,"labelPadding":1,"tickSize":2}}},
    "layer":[
     {"data":{"name":"bBox"},"transform":[{"filter":"datum.s=='S'"}],"mark":{"type":"rule","strokeWidth":0.7,"opacity":0.55},"encoding":{"y":{"field":"lo","type":"quantitative","scale":{"domain":[-1850,2150],"nice":false,"zero":false},"axis":{"title":"StromalScore","values":[-1000,0,1000,2000],"format":"d","labelFontSize":6.5,"titleFontSize":6.5,"tickSize":2,"labelPadding":1,"titlePadding":2}},"y2":{"field":"hi"},"stroke":{"field":"g","type":"nominal","scale":{"domain":["High","Low"],"range":["#4157B5","#F39C12"]},"legend":{"title":"SYNJ2 expression","orient":"none","legendX":4,"legendY":-13,"direction":"horizontal","titleOrient":"left","titleFontSize":5.5,"labelFontSize":5,"symbolType":"M-1,-0.6H1V0.6H-1Z M-1,0H1 M0,-0.6V-1 M0,0.6V1","symbolSize":30,"symbolStrokeWidth":0.8,"symbolFillColor":"white","titlePadding":2,"columnPadding":3,"labelOffset":2}}}},
     {"data":{"name":"bBox"},"transform":[{"filter":"datum.s=='S'"}],"mark":{"type":"bar","fillOpacity":0,"strokeWidth":0.8,"strokeOpacity":0.55},"encoding":{"y":{"field":"q1","type":"quantitative"},"y2":{"field":"q3"},"stroke":{"field":"g","type":"nominal"}}},
     {"data":{"name":"bS"},"transform":[{"filter":"datum.g=='High'"}],"mark":{"type":"circle","size":7,"opacity":0.95,"color":"#4157B5"},"encoding":{"xOffset":{"field":"i","type":"nominal","scale":{"type":"band","paddingInner":0,"paddingOuter":0.2}},"y":{"field":"v","type":"quantitative"}}},
     {"data":{"name":"bS"},"transform":[{"filter":"datum.g=='Low'"}],"mark":{"type":"circle","size":7,"opacity":0.95,"color":"#F39C12"},"encoding":{"xOffset":{"field":"i","type":"nominal"},"y":{"field":"v","type":"quantitative"}}},
     {"data":{"name":"bBox"},"transform":[{"filter":"datum.s=='S'"}],"mark":{"type":"bar","fillOpacity":0,"strokeWidth":1.1,"strokeOpacity":0.6},"encoding":{"y":{"field":"md","type":"quantitative"},"y2":{"field":"md"},"stroke":{"field":"g","type":"nominal"}}},
     {"data":{"name":"bSig"},"transform":[{"filter":"datum.s=='S'"}],"mark":{"type":"rule","strokeWidth":0.6,"color":"#333"},"encoding":{"x":{"field":"a","type":"nominal"},"x2":{"field":"b"},"y":{"field":"y","type":"quantitative"}}},
     {"data":{"name":"bSig"},"transform":[{"filter":"datum.s=='S'"}],"mark":{"type":"rule","strokeWidth":0.6,"color":"#333"},"encoding":{"x":{"field":"a","type":"nominal"},"y":{"field":"y","type":"quantitative"},"y2":{"field":"y2"}}},
     {"data":{"name":"bSig"},"transform":[{"filter":"datum.s=='S'"}],"mark":{"type":"rule","strokeWidth":0.6,"color":"#333"},"encoding":{"x":{"field":"b","type":"nominal"},"y":{"field":"y","type":"quantitative"},"y2":{"field":"y2"}}},
     {"data":{"name":"bSig"},"transform":[{"filter":"datum.s=='S'"}],"mark":{"type":"text","fontSize":6.5,"dx":25,"baseline":"bottom","color":"#222"},"encoding":{"x":{"field":"a","type":"nominal"},"y":{"field":"ty","type":"quantitative"},"text":{"field":"t"}}}
    ]},
   {"width":112,"height":109,
    "encoding":{"x":{"field":"g","type":"nominal","scale":{"type":"band","domain":["High","Low"],"paddingInner":0.27,"paddingOuter":0.235},"axis":{"title":"SYNJ2 expression","labelAngle":0,"labelFontSize":7,"titleFontSize":7,"titlePadding":1,"labelPadding":1,"tickSize":2}}},
    "layer":[
     {"data":{"name":"bBox"},"transform":[{"filter":"datum.s=='T'"}],"mark":{"type":"rule","strokeWidth":0.7,"opacity":0.55},"encoding":{"y":{"field":"lo","type":"quantitative","scale":{"domain":[0.3,1.035],"nice":false,"zero":false},"axis":{"title":"TumorPurity","values":[0.3,0.5,0.7,0.9],"format":".1f","labelFontSize":6.5,"titleFontSize":6.5,"tickSize":2,"labelPadding":1,"titlePadding":2}},"y2":{"field":"hi"},"stroke":{"field":"g","type":"nominal","scale":{"domain":["High","Low"],"range":["#4157B5","#F39C12"]},"legend":{"title":"SYNJ2 expression","orient":"none","legendX":16,"legendY":-13,"direction":"horizontal","titleOrient":"left","titleFontSize":5.5,"labelFontSize":5,"symbolType":"M-1,-0.6H1V0.6H-1Z M-1,0H1 M0,-0.6V-1 M0,0.6V1","symbolSize":30,"symbolStrokeWidth":0.8,"symbolFillColor":"white","titlePadding":2,"columnPadding":3,"labelOffset":2}}}},
     {"data":{"name":"bBox"},"transform":[{"filter":"datum.s=='T'"}],"mark":{"type":"bar","fillOpacity":0,"strokeWidth":0.8,"strokeOpacity":0.55},"encoding":{"y":{"field":"q1","type":"quantitative"},"y2":{"field":"q3"},"stroke":{"field":"g","type":"nominal"}}},
     {"data":{"name":"bT"},"transform":[{"filter":"datum.g=='High'"}],"mark":{"type":"circle","size":7,"opacity":0.95,"color":"#4157B5"},"encoding":{"xOffset":{"field":"i","type":"nominal","scale":{"type":"band","paddingInner":0,"paddingOuter":0.2}},"y":{"field":"v","type":"quantitative"}}},
     {"data":{"name":"bT"},"transform":[{"filter":"datum.g=='Low'"}],"mark":{"type":"circle","size":7,"opacity":0.95,"color":"#F39C12"},"encoding":{"xOffset":{"field":"i","type":"nominal"},"y":{"field":"v","type":"quantitative"}}},
     {"data":{"name":"bBox"},"transform":[{"filter":"datum.s=='T'"}],"mark":{"type":"bar","fillOpacity":0,"strokeWidth":1.1,"strokeOpacity":0.6},"encoding":{"y":{"field":"md","type":"quantitative"},"y2":{"field":"md"},"stroke":{"field":"g","type":"nominal"}}},
     {"data":{"name":"bSig"},"transform":[{"filter":"datum.s=='T'"}],"mark":{"type":"rule","strokeWidth":0.6,"color":"#333"},"encoding":{"x":{"field":"a","type":"nominal"},"x2":{"field":"b"},"y":{"field":"y","type":"quantitative"}}},
     {"data":{"name":"bSig"},"transform":[{"filter":"datum.s=='T'"}],"mark":{"type":"rule","strokeWidth":0.6,"color":"#333"},"encoding":{"x":{"field":"a","type":"nominal"},"y":{"field":"y","type":"quantitative"},"y2":{"field":"y2"}}},
     {"data":{"name":"bSig"},"transform":[{"filter":"datum.s=='T'"}],"mark":{"type":"rule","strokeWidth":0.6,"color":"#333"},"encoding":{"x":{"field":"b","type":"nominal"},"y":{"field":"y","type":"quantitative"},"y2":{"field":"y2"}}},
     {"data":{"name":"bSig"},"transform":[{"filter":"datum.s=='T'"}],"mark":{"type":"text","fontSize":6.5,"dx":25,"baseline":"bottom","color":"#222"},"encoding":{"x":{"field":"a","type":"nominal"},"y":{"field":"ty","type":"quantitative"},"text":{"field":"t"}}}
    ]}
  ],"spacing":6,"resolve":{"scale":{"stroke":"independent"},"legend":{"stroke":"independent"}}}
 ],"spacing":7,"resolve":{"scale":{"stroke":"independent"},"legend":{"stroke":"independent"}}}
],"spacing":1,"resolve":{"scale":{"stroke":"independent"},"legend":{"stroke":"independent"}}},
{"width":666,"height":162,
  "title":{"text":"c","anchor":"start","frame":"bounds","font":"Liberation Serif","fontSize":26,"fontWeight":"normal","offset":4,"dy":30,"dx":3},
  "encoding":{"x":{"field":"x","type":"nominal","scale":{"type":"band","domain":["B2M|High","B2M|Low","CD274|High","CD274|Low","CD28|High","CD28|Low","CD40|High","CD40|Low","CD40LG|High","CD40LG|Low","CD80|High","CD80|Low","CD86|High","CD86|Low","CD8A|High","CD8A|Low","CTLA4|High","CTLA4|Low","FGL1|High","FGL1|Low","HAVCR2|High","HAVCR2|Low","ICOS|High","ICOS|Low","ICOSLG|High","ICOSLG|Low","IFNG|High","IFNG|Low","IL12A|High","IL12A|Low","IL12B|High","IL12B|Low","IL23A|High","IL23A|Low","JAK1|High","JAK1|Low","JAK2|High","JAK2|Low","LAG3|High","LAG3|Low","LAMA3|High","LAMA3|Low","LDHA|High","LDHA|Low","LDHB|High","LDHB|Low","LDHC|High","LDHC|Low","LGALS9|High","LGALS9|Low","PDCD1|High","PDCD1|Low","PDCD1LG2|High","PDCD1LG2|Low","PTPRC|High","PTPRC|Low","PVR|High","PVR|Low","SIGLEC15|High","SIGLEC15|Low","TNFRSF18|High","TNFRSF18|Low","TNFRSF4|High","TNFRSF4|Low","TNFRSF9|High","TNFRSF9|Low","TNFSF18|High","TNFSF18|Low","TNFSF4|High","TNFSF4|Low","TNFSF9|High","TNFSF9|Low","VTCN1|High","VTCN1|Low","YTHDF1|High","YTHDF1|Low"],"paddingInner":0.11,"paddingOuter":0.15},"axis":{"title":null,"values":["B2M|High","CD274|High","CD28|High","CD40|High","CD40LG|High","CD80|High","CD86|High","CD8A|High","CTLA4|High","FGL1|High","HAVCR2|High","ICOS|High","ICOSLG|High","IFNG|High","IL12A|High","IL12B|High","IL23A|High","JAK1|High","JAK2|High","LAG3|High","LAMA3|High","LDHA|High","LDHB|High","LDHC|High","LGALS9|High","PDCD1|High","PDCD1LG2|High","PTPRC|High","PVR|High","SIGLEC15|High","TNFRSF18|High","TNFRSF4|High","TNFRSF9|High","TNFSF18|High","TNFSF4|High","TNFSF9|High","VTCN1|High","YTHDF1|High"],"labelExpr":"split(datum.value, '|')[0]","bandPosition":1.062,"labelAngle":-45,"labelAlign":"right","labelBaseline":"top","labelFontSize":8.5,"labelLimit":0,"labelOverlap":false,"labelPadding":2,"tickSize":3}}},
  "layer":[
   {"data":{"name":"cBox"},"mark":{"type":"rule","strokeWidth":0.9,"opacity":0.75},"encoding":{"y":{"field":"lo","type":"quantitative","scale":{"domain":[-3.8,13.65],"nice":false,"zero":false},"axis":{"title":"Gene expression","values":[0,5,10],"labelFontSize":10,"titleFontSize":10,"tickSize":3,"titlePadding":4}},"y2":{"field":"hi"},"stroke":{"field":"g","type":"nominal","scale":{"domain":["High","Low"],"range":["#4157B5","#F39C12"]},"legend":{"title":"Group","orient":"none","legendX":288,"legendY":-25,"direction":"horizontal","titleOrient":"left","titleFontSize":10,"labelFontSize":8.5,"symbolType":"M-1,-0.6H1V0.6H-1Z M-1,0H1 M0,-0.6V-1 M0,0.6V1","symbolSize":90,"symbolStrokeWidth":1,"symbolFillColor":"white","titlePadding":6,"columnPadding":8,"labelOffset":4}}}},
   {"data":{"name":"cBox"},"mark":{"type":"bar","fill":"white","strokeWidth":0.9,"strokeOpacity":0.8},"encoding":{"y":{"field":"q1","type":"quantitative"},"y2":{"field":"q3"},"stroke":{"field":"g","type":"nominal"}}},
   {"data":{"name":"cBox"},"mark":{"type":"bar","fillOpacity":0,"strokeWidth":1.5},"encoding":{"y":{"field":"md","type":"quantitative"},"y2":{"field":"md"},"stroke":{"field":"g","type":"nominal"}}},
   {"data":{"name":"cOut"},"transform":[{"filter":"datum.g=='High'"}],"mark":{"type":"circle","size":4,"opacity":1,"color":"#4157B5"},"encoding":{"y":{"field":"v","type":"quantitative"}}},
   {"data":{"name":"cOut"},"transform":[{"filter":"datum.g=='Low'"}],"mark":{"type":"circle","size":4,"opacity":1,"color":"#F39C12"},"encoding":{"y":{"field":"v","type":"quantitative"}}},
   {"data":{"name":"cSig"},"mark":{"type":"text","fontSize":8,"baseline":"middle","color":"#111"},"encoding":{"x":{"field":"x","type":"nominal","bandPosition":1.062},"y":{"datum":13.2,"type":"quantitative"},"text":{"field":"t"}}}
  ]},
{"width":1,"height":2,"data":{"values":[]},"mark":"point"},
{"hconcat":[
 {"width":111,"height":1,"data":{"values":[]},"mark":"point"},
 {"width":387,"height":173,
  "title":{"text":"d","anchor":"start","frame":"bounds","font":"Liberation Serif","fontSize":26,"fontWeight":"normal","offset":2,"dy":25},
  "encoding":{"x":{"field":"x","type":"nominal","scale":{"type":"band","domain":["APC_co_inhibition|High","APC_co_inhibition|Low","APC_co_stimulation|High","APC_co_stimulation|Low","CCR|High","CCR|Low","Check-point|High","Check-point|Low","Cytolytic_activity|High","Cytolytic_activity|Low","HLA|High","HLA|Low","Inflammation-promoting|High","Inflammation-promoting|Low","MHC_class_I|High","MHC_class_I|Low","Parainflammation|High","Parainflammation|Low","T_cell_co-inhibition|High","T_cell_co-inhibition|Low","T_cell_co-stimulation|High","T_cell_co-stimulation|Low","Type_I_IFN_Reponse|High","Type_I_IFN_Reponse|Low","Type_II_IFN_Reponse|High","Type_II_IFN_Reponse|Low"],"paddingInner":0.27,"paddingOuter":0.365},"axis":{"title":null,"values":["APC_co_inhibition|High","APC_co_stimulation|High","CCR|High","Check-point|High","Cytolytic_activity|High","HLA|High","Inflammation-promoting|High","MHC_class_I|High","Parainflammation|High","T_cell_co-inhibition|High","T_cell_co-stimulation|High","Type_I_IFN_Reponse|High","Type_II_IFN_Reponse|High"],"labelExpr":"split(datum.value, '|')[0]","bandPosition":1.185,"labelAngle":-45,"labelAlign":"right","labelBaseline":"top","labelFontSize":7.5,"labelLimit":0,"labelOverlap":false,"labelPadding":2,"tickSize":3}}},
  "layer":[
   {"data":{"name":"dBox"},"mark":{"type":"rule","strokeWidth":0.9,"opacity":0.75},"encoding":{"y":{"field":"lo","type":"quantitative","scale":{"domain":[-0.044,1.057],"nice":false,"zero":false},"axis":{"title":"Score","values":[0,0.25,0.5,0.75,1],"format":".2f","labelFontSize":8,"titleFontSize":8,"tickSize":3,"titlePadding":4,"domainColor":"#888","domainWidth":1.5}},"y2":{"field":"hi"},"stroke":{"field":"g","type":"nominal","scale":{"domain":["High","Low"],"range":["#4157B5","#F39C12"]},"legend":{"title":"Risk","orient":"none","legendX":150,"legendY":-22,"direction":"horizontal","titleOrient":"left","titleFontSize":7.5,"labelFontSize":6.5,"symbolType":"M-1,-0.6H1V0.6H-1Z M-1,0H1 M0,-0.6V-1 M0,0.6V1","symbolSize":55,"symbolStrokeWidth":0.9,"symbolFillColor":"white","titlePadding":4,"columnPadding":6,"labelOffset":3}}}},
   {"data":{"name":"dBox"},"mark":{"type":"bar","fill":"white","strokeWidth":0.9,"strokeOpacity":0.8},"encoding":{"y":{"field":"q1","type":"quantitative"},"y2":{"field":"q3"},"stroke":{"field":"g","type":"nominal"}}},
   {"data":{"name":"dBox"},"mark":{"type":"bar","fillOpacity":0,"strokeWidth":1.5},"encoding":{"y":{"field":"md","type":"quantitative"},"y2":{"field":"md"},"stroke":{"field":"g","type":"nominal"}}},
   {"data":{"name":"dOut"},"transform":[{"filter":"datum.g=='High'"}],"mark":{"type":"circle","size":10,"opacity":1,"color":"#4157B5"},"encoding":{"y":{"field":"v","type":"quantitative"}}},
   {"data":{"name":"dOut"},"transform":[{"filter":"datum.g=='Low'"}],"mark":{"type":"circle","size":10,"opacity":1,"color":"#F39C12"},"encoding":{"y":{"field":"v","type":"quantitative"}}},
   {"data":{"name":"dSig"},"mark":{"type":"text","fontSize":7,"baseline":"middle","color":"#111"},"encoding":{"x":{"field":"x","type":"nominal","bandPosition":1.185},"y":{"datum":1.03,"type":"quantitative"},"text":{"field":"t"}}}
  ]}
],"spacing":0,"resolve":{"scale":{"stroke":"independent"},"legend":{"stroke":"independent"}}}
]
}
